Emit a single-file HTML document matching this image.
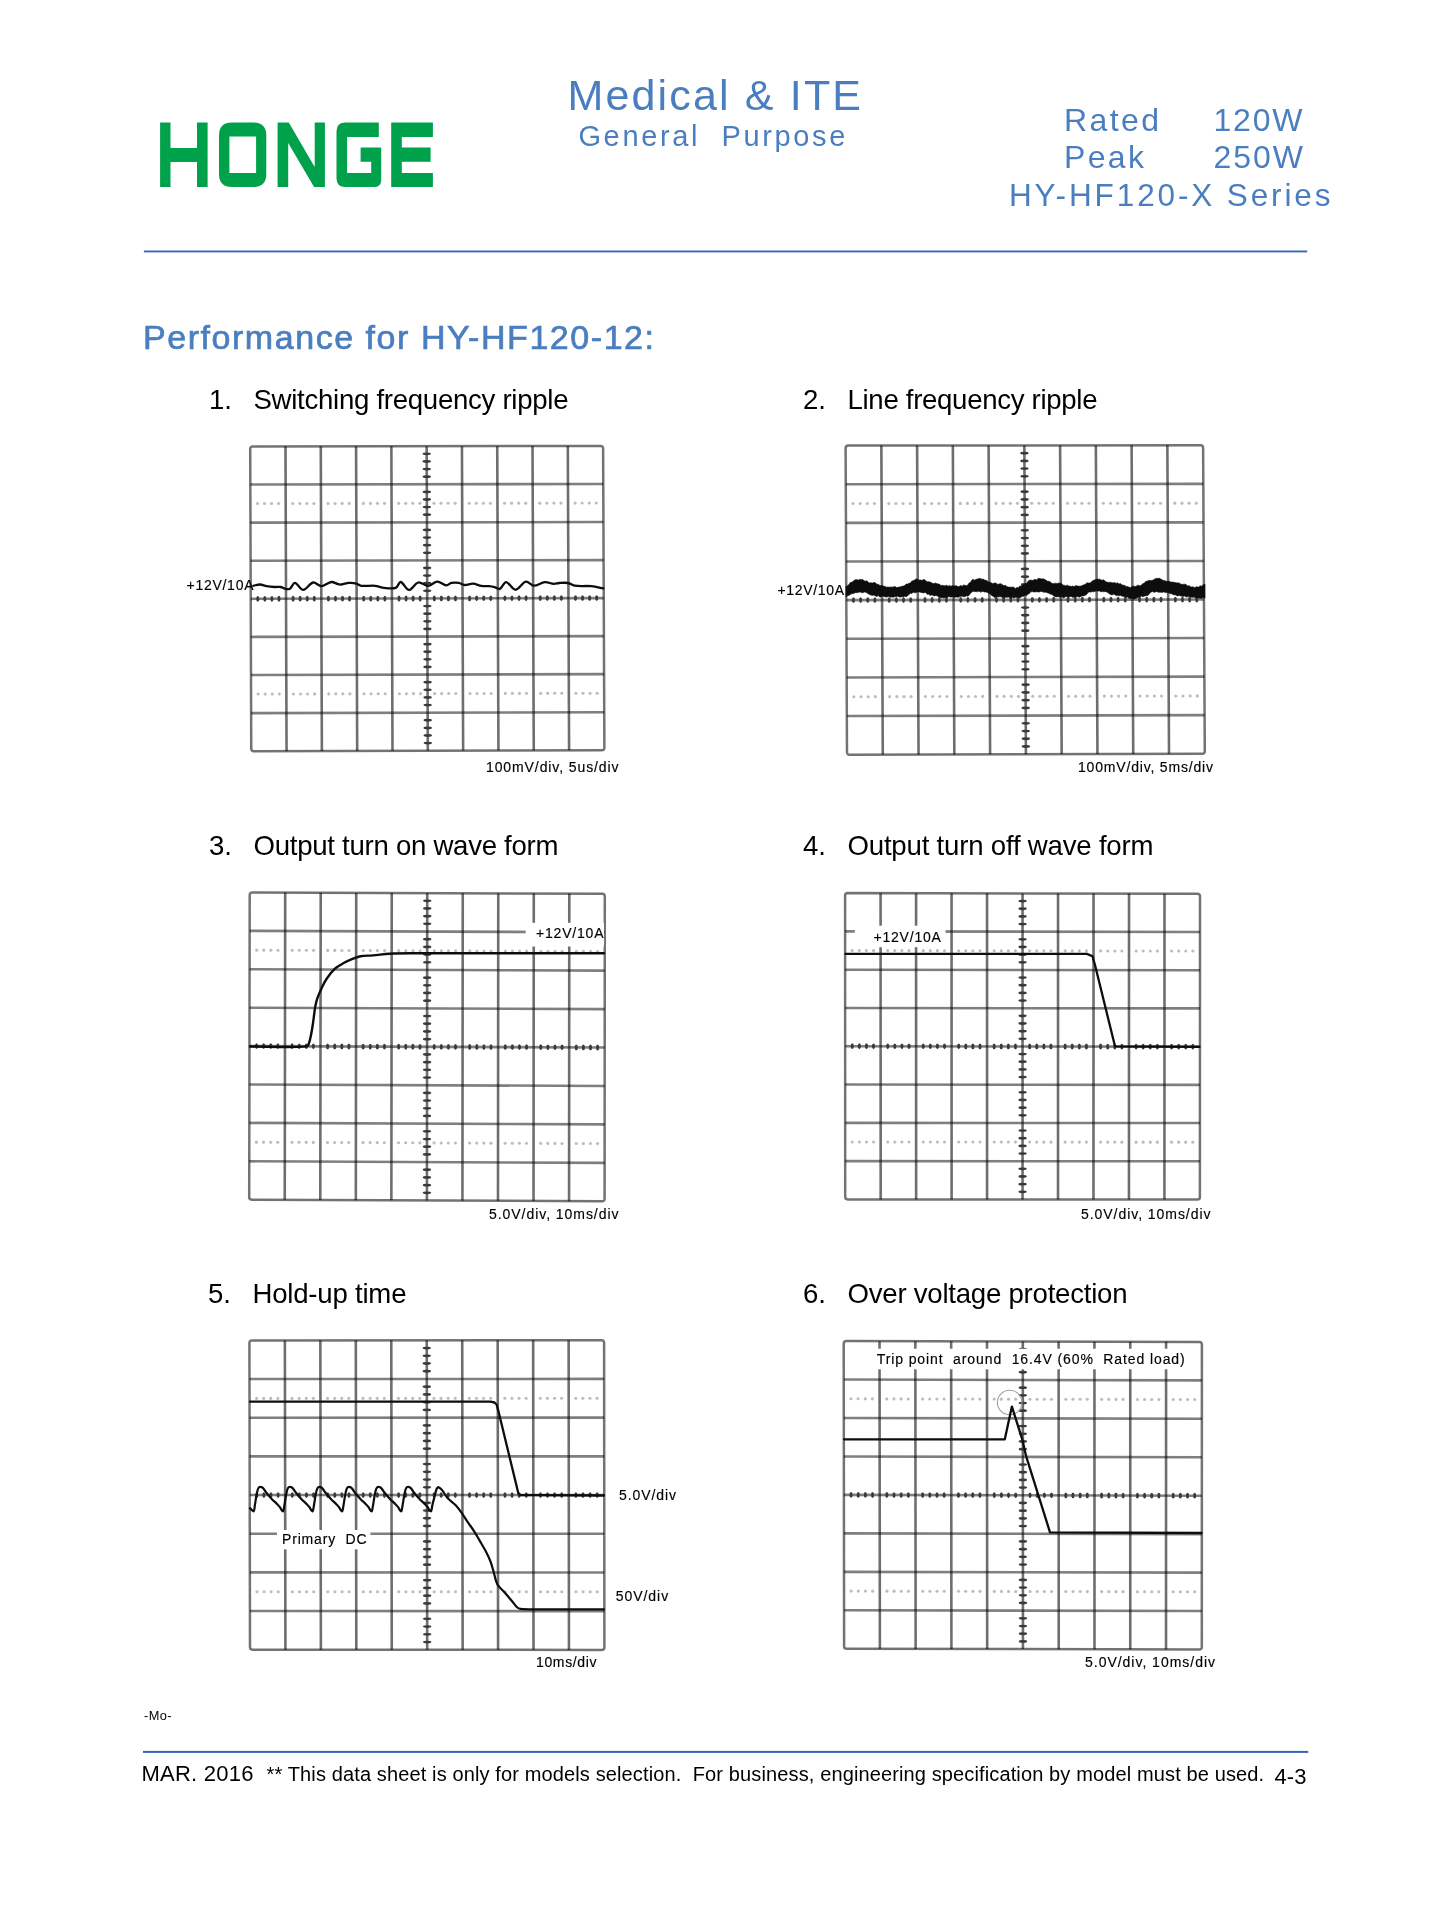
<!DOCTYPE html>
<html><head><meta charset="utf-8"><title>HONGE HY-HF120-X Performance</title>
<style>
html,body{margin:0;padding:0;background:#fff;}
body{width:1445px;height:1920px;overflow:hidden;}
svg{display:block;font-family:"Liberation Sans", sans-serif;will-change:transform;}
text{white-space:pre;}
</style></head>
<body>
<svg width="1445" height="1920" viewBox="0 0 1445 1920">
<rect width="1445" height="1920" fill="#fff"/>
<path d="M160.1,122.5H170.5V147.9H197.0V122.5H207.6V187.1H197.0V161.9H170.5V187.1H160.1ZM232,122.5H253.3Q266.3,122.5 266.3,135.5V174.1Q266.3,187.1 253.3,187.1H232Q219,187.1 219,174.1V135.5Q219,122.5 232,122.5ZM229.4,136.5V173H256.1V136.5ZM277.6,122.4H288.8L314.7,167.1V122.4H324.9V187.1H314.1L288.2,142.9V187.1H277.6ZM345.3,122.4H378.8V137.1H347.1V172.9H371.2V161.8H360.6V147.6H381.2V180Q381.2,187.1 374,187.1H345.3Q336.5,187.1 336.5,178.3V131.2Q336.5,122.4 345.3,122.4ZM391.2,122.4H432.9V137.1H401.8V147.6H430.6V161.8H401.8V172.9H432.9V187.1H391.2Z" fill="#00a14b" fill-rule="evenodd"/>
<text x="567.5" y="110.3" font-size="43" fill="#4a7ebf" textLength="293.5" lengthAdjust="spacing">Medical &amp; ITE</text>
<text x="578.4" y="146.4" font-size="29" fill="#4a7ebf" textLength="267" lengthAdjust="spacing">General  Purpose</text>
<text x="1064" y="130.8" font-size="32" fill="#4a7ebf" textLength="95" lengthAdjust="spacing">Rated</text>
<text x="1213.5" y="130.8" font-size="32" fill="#4a7ebf" textLength="89" lengthAdjust="spacing">120W</text>
<text x="1064" y="168.4" font-size="32" fill="#4a7ebf" textLength="80" lengthAdjust="spacing">Peak</text>
<text x="1213.5" y="168.4" font-size="32" fill="#4a7ebf" textLength="89.5" lengthAdjust="spacing">250W</text>
<text x="1009" y="206.1" font-size="31.5" fill="#4a7ebf" textLength="321.5" lengthAdjust="spacing">HY-HF120-X Series</text>
<rect x="143.9" y="250.5" width="1163.3" height="1.9" fill="#3866b3"/>
<g stroke="#4a7ebf" stroke-width="0.7">
<text x="143" y="348.8" font-size="34" fill="#4a7ebf" textLength="511" lengthAdjust="spacing">Performance for HY-HF120-12:</text>
</g>
<text x="209" y="408.7" font-size="27.6" fill="#000">1.</text>
<text x="253.5" y="408.7" font-size="27.6" fill="#000" textLength="315" lengthAdjust="spacing">Switching frequency ripple</text>
<text x="803" y="408.7" font-size="27.6" fill="#000">2.</text>
<text x="847.5" y="408.7" font-size="27.6" fill="#000" textLength="250" lengthAdjust="spacing">Line frequency ripple</text>
<text x="209" y="854.8" font-size="27.6" fill="#000">3.</text>
<text x="253.5" y="854.8" font-size="27.6" fill="#000" textLength="305" lengthAdjust="spacing">Output turn on wave form</text>
<text x="803" y="854.8" font-size="27.6" fill="#000">4.</text>
<text x="847.5" y="854.8" font-size="27.6" fill="#000" textLength="306" lengthAdjust="spacing">Output turn off wave form</text>
<text x="208" y="1302.5" font-size="27.6" fill="#000">5.</text>
<text x="252.5" y="1302.5" font-size="27.6" fill="#000" textLength="154" lengthAdjust="spacing">Hold-up time</text>
<text x="803" y="1303" font-size="27.6" fill="#000">6.</text>
<text x="847.5" y="1303" font-size="27.6" fill="#000" textLength="280" lengthAdjust="spacing">Over voltage protection</text>
<path d="M285.49,446.36L286.56,751.14M320.78,446.32L321.88,751.04M356.07,446.28L357.19,750.93M391.36,446.24L392.51,750.83M426.65,446.20L427.82,750.73M461.94,446.16L463.14,750.62M497.23,446.12L498.45,750.51M532.52,446.08L533.77,750.41M567.81,446.04L569.09,750.31" stroke="#000" stroke-opacity="0.57" stroke-width="2.6" fill="none"/>
<path d="M250.33,484.51L603.26,484.02M250.46,522.61L603.43,522.05M250.59,560.72L603.59,560.08M250.72,598.83L603.75,598.10M250.86,636.93L603.91,636.12M250.99,675.04L604.07,674.15M251.12,713.14L604.24,712.18" stroke="#000" stroke-opacity="0.5" stroke-width="2.6" fill="none"/>
<path d="M252.80,446.40L600.50,446.00Q603.10,446.00 603.11,448.59L604.39,747.61Q604.40,750.20 601.80,750.21L253.85,751.24Q251.25,751.25 251.24,748.65L250.21,449.00Q250.20,446.40 252.80,446.40Z" stroke="#000" stroke-opacity="0.55" stroke-width="2.5" fill="none"/>
<g fill="#3a3a3a"><ellipse cx="426.68" cy="453.81" rx="4.2" ry="1.4"/><ellipse cx="426.71" cy="461.43" rx="4.2" ry="1.4"/><ellipse cx="426.74" cy="469.04" rx="4.2" ry="1.4"/><ellipse cx="426.77" cy="476.65" rx="4.2" ry="1.4"/><ellipse cx="426.83" cy="491.88" rx="4.2" ry="1.4"/><ellipse cx="426.86" cy="499.49" rx="4.2" ry="1.4"/><ellipse cx="426.88" cy="507.11" rx="4.2" ry="1.4"/><ellipse cx="426.91" cy="514.72" rx="4.2" ry="1.4"/><ellipse cx="426.97" cy="529.94" rx="4.2" ry="1.4"/><ellipse cx="427.00" cy="537.56" rx="4.2" ry="1.4"/><ellipse cx="427.03" cy="545.17" rx="4.2" ry="1.4"/><ellipse cx="427.06" cy="552.78" rx="4.2" ry="1.4"/><ellipse cx="427.12" cy="568.01" rx="4.2" ry="1.4"/><ellipse cx="427.15" cy="575.62" rx="4.2" ry="1.4"/><ellipse cx="427.18" cy="583.24" rx="4.2" ry="1.4"/><ellipse cx="427.21" cy="590.85" rx="4.2" ry="1.4"/><ellipse cx="427.27" cy="606.08" rx="4.2" ry="1.4"/><ellipse cx="427.30" cy="613.69" rx="4.2" ry="1.4"/><ellipse cx="427.33" cy="621.30" rx="4.2" ry="1.4"/><ellipse cx="427.36" cy="628.91" rx="4.2" ry="1.4"/><ellipse cx="427.41" cy="644.14" rx="4.2" ry="1.4"/><ellipse cx="427.44" cy="651.75" rx="4.2" ry="1.4"/><ellipse cx="427.47" cy="659.37" rx="4.2" ry="1.4"/><ellipse cx="427.50" cy="666.98" rx="4.2" ry="1.4"/><ellipse cx="427.56" cy="682.21" rx="4.2" ry="1.4"/><ellipse cx="427.59" cy="689.82" rx="4.2" ry="1.4"/><ellipse cx="427.62" cy="697.43" rx="4.2" ry="1.4"/><ellipse cx="427.65" cy="705.05" rx="4.2" ry="1.4"/><ellipse cx="427.71" cy="720.27" rx="4.2" ry="1.4"/><ellipse cx="427.74" cy="727.89" rx="4.2" ry="1.4"/><ellipse cx="427.77" cy="735.50" rx="4.2" ry="1.4"/><ellipse cx="427.80" cy="743.11" rx="4.2" ry="1.4"/><ellipse cx="257.79" cy="598.81" rx="1.55" ry="2.9"/><ellipse cx="264.85" cy="598.80" rx="1.55" ry="2.9"/><ellipse cx="271.91" cy="598.78" rx="1.55" ry="2.9"/><ellipse cx="278.97" cy="598.77" rx="1.55" ry="2.9"/><ellipse cx="293.09" cy="598.74" rx="1.55" ry="2.9"/><ellipse cx="300.15" cy="598.72" rx="1.55" ry="2.9"/><ellipse cx="307.21" cy="598.71" rx="1.55" ry="2.9"/><ellipse cx="314.27" cy="598.69" rx="1.55" ry="2.9"/><ellipse cx="328.39" cy="598.67" rx="1.55" ry="2.9"/><ellipse cx="335.45" cy="598.65" rx="1.55" ry="2.9"/><ellipse cx="342.51" cy="598.64" rx="1.55" ry="2.9"/><ellipse cx="349.57" cy="598.62" rx="1.55" ry="2.9"/><ellipse cx="363.69" cy="598.59" rx="1.55" ry="2.9"/><ellipse cx="370.75" cy="598.58" rx="1.55" ry="2.9"/><ellipse cx="377.81" cy="598.56" rx="1.55" ry="2.9"/><ellipse cx="384.87" cy="598.55" rx="1.55" ry="2.9"/><ellipse cx="399.00" cy="598.52" rx="1.55" ry="2.9"/><ellipse cx="406.06" cy="598.51" rx="1.55" ry="2.9"/><ellipse cx="413.12" cy="598.49" rx="1.55" ry="2.9"/><ellipse cx="420.18" cy="598.48" rx="1.55" ry="2.9"/><ellipse cx="434.30" cy="598.45" rx="1.55" ry="2.9"/><ellipse cx="441.36" cy="598.43" rx="1.55" ry="2.9"/><ellipse cx="448.42" cy="598.42" rx="1.55" ry="2.9"/><ellipse cx="455.48" cy="598.40" rx="1.55" ry="2.9"/><ellipse cx="469.60" cy="598.38" rx="1.55" ry="2.9"/><ellipse cx="476.66" cy="598.36" rx="1.55" ry="2.9"/><ellipse cx="483.72" cy="598.35" rx="1.55" ry="2.9"/><ellipse cx="490.78" cy="598.33" rx="1.55" ry="2.9"/><ellipse cx="504.90" cy="598.30" rx="1.55" ry="2.9"/><ellipse cx="511.96" cy="598.29" rx="1.55" ry="2.9"/><ellipse cx="519.02" cy="598.27" rx="1.55" ry="2.9"/><ellipse cx="526.08" cy="598.26" rx="1.55" ry="2.9"/><ellipse cx="540.21" cy="598.23" rx="1.55" ry="2.9"/><ellipse cx="547.27" cy="598.22" rx="1.55" ry="2.9"/><ellipse cx="554.33" cy="598.20" rx="1.55" ry="2.9"/><ellipse cx="561.39" cy="598.19" rx="1.55" ry="2.9"/><ellipse cx="575.51" cy="598.16" rx="1.55" ry="2.9"/><ellipse cx="582.57" cy="598.14" rx="1.55" ry="2.9"/><ellipse cx="589.63" cy="598.13" rx="1.55" ry="2.9"/><ellipse cx="596.69" cy="598.11" rx="1.55" ry="2.9"/></g>
<g fill="#bcbcbc"><circle cx="257.46" cy="503.55" r="1.55"/><circle cx="264.51" cy="503.54" r="1.55"/><circle cx="271.57" cy="503.53" r="1.55"/><circle cx="278.63" cy="503.52" r="1.55"/><circle cx="292.75" cy="503.50" r="1.55"/><circle cx="299.81" cy="503.49" r="1.55"/><circle cx="306.87" cy="503.48" r="1.55"/><circle cx="313.93" cy="503.47" r="1.55"/><circle cx="328.05" cy="503.44" r="1.55"/><circle cx="335.10" cy="503.43" r="1.55"/><circle cx="342.16" cy="503.42" r="1.55"/><circle cx="349.22" cy="503.41" r="1.55"/><circle cx="363.34" cy="503.39" r="1.55"/><circle cx="370.40" cy="503.38" r="1.55"/><circle cx="377.46" cy="503.37" r="1.55"/><circle cx="384.52" cy="503.36" r="1.55"/><circle cx="398.63" cy="503.34" r="1.55"/><circle cx="405.69" cy="503.33" r="1.55"/><circle cx="412.75" cy="503.32" r="1.55"/><circle cx="419.81" cy="503.31" r="1.55"/><circle cx="433.93" cy="503.29" r="1.55"/><circle cx="440.99" cy="503.28" r="1.55"/><circle cx="448.05" cy="503.27" r="1.55"/><circle cx="455.11" cy="503.26" r="1.55"/><circle cx="469.22" cy="503.24" r="1.55"/><circle cx="476.28" cy="503.23" r="1.55"/><circle cx="483.34" cy="503.21" r="1.55"/><circle cx="490.40" cy="503.20" r="1.55"/><circle cx="504.52" cy="503.18" r="1.55"/><circle cx="511.58" cy="503.17" r="1.55"/><circle cx="518.64" cy="503.16" r="1.55"/><circle cx="525.70" cy="503.15" r="1.55"/><circle cx="539.81" cy="503.13" r="1.55"/><circle cx="546.87" cy="503.12" r="1.55"/><circle cx="553.93" cy="503.11" r="1.55"/><circle cx="560.99" cy="503.10" r="1.55"/><circle cx="575.11" cy="503.08" r="1.55"/><circle cx="582.17" cy="503.07" r="1.55"/><circle cx="589.23" cy="503.06" r="1.55"/><circle cx="596.28" cy="503.05" r="1.55"/><circle cx="258.12" cy="694.07" r="1.55"/><circle cx="265.18" cy="694.05" r="1.55"/><circle cx="272.24" cy="694.03" r="1.55"/><circle cx="279.30" cy="694.02" r="1.55"/><circle cx="293.43" cy="693.98" r="1.55"/><circle cx="300.49" cy="693.96" r="1.55"/><circle cx="307.55" cy="693.94" r="1.55"/><circle cx="314.61" cy="693.92" r="1.55"/><circle cx="328.74" cy="693.89" r="1.55"/><circle cx="335.80" cy="693.87" r="1.55"/><circle cx="342.86" cy="693.85" r="1.55"/><circle cx="349.92" cy="693.83" r="1.55"/><circle cx="364.05" cy="693.79" r="1.55"/><circle cx="371.11" cy="693.78" r="1.55"/><circle cx="378.17" cy="693.76" r="1.55"/><circle cx="385.23" cy="693.74" r="1.55"/><circle cx="399.36" cy="693.70" r="1.55"/><circle cx="406.42" cy="693.68" r="1.55"/><circle cx="413.48" cy="693.66" r="1.55"/><circle cx="420.54" cy="693.65" r="1.55"/><circle cx="434.67" cy="693.61" r="1.55"/><circle cx="441.73" cy="693.59" r="1.55"/><circle cx="448.79" cy="693.57" r="1.55"/><circle cx="455.85" cy="693.55" r="1.55"/><circle cx="469.98" cy="693.52" r="1.55"/><circle cx="477.04" cy="693.50" r="1.55"/><circle cx="484.10" cy="693.48" r="1.55"/><circle cx="491.16" cy="693.46" r="1.55"/><circle cx="505.29" cy="693.42" r="1.55"/><circle cx="512.35" cy="693.40" r="1.55"/><circle cx="519.41" cy="693.39" r="1.55"/><circle cx="526.47" cy="693.37" r="1.55"/><circle cx="540.60" cy="693.33" r="1.55"/><circle cx="547.66" cy="693.31" r="1.55"/><circle cx="554.72" cy="693.29" r="1.55"/><circle cx="561.78" cy="693.27" r="1.55"/><circle cx="575.91" cy="693.24" r="1.55"/><circle cx="582.97" cy="693.22" r="1.55"/><circle cx="590.03" cy="693.20" r="1.55"/><circle cx="597.09" cy="693.18" r="1.55"/></g>
<path d="M253.30,585.80 C255.53,585.37 257.78,584.43 260.00,584.50 C262.22,584.57 264.37,585.83 266.60,586.20 C269.33,586.66 272.13,586.84 274.90,587.00 C276.83,587.11 278.83,586.68 280.70,587.00 C282.16,587.25 283.44,588.43 284.90,588.70 C286.51,589.00 288.58,589.46 289.90,588.70 C291.92,587.53 293.07,582.73 294.90,582.90 C297.50,583.13 300.36,589.96 303.20,589.90 C306.43,589.83 309.60,583.21 313.10,582.50 C315.67,581.98 318.62,586.28 321.40,586.20 C324.72,586.11 328.02,582.43 331.40,582.00 C333.56,581.73 335.77,583.54 338.00,584.10 C339.10,584.38 340.28,584.62 341.40,584.50 C343.88,584.22 346.31,583.11 348.80,582.90 C351.01,582.71 353.35,582.80 355.50,583.30 C357.52,583.77 359.25,585.54 361.30,585.80 C365.75,586.37 370.48,585.38 375.00,585.80 C378.08,586.08 381.02,587.59 384.10,587.90 C387.92,588.29 392.38,589.08 395.70,587.90 C397.91,587.11 398.91,581.73 400.70,582.00 C403.35,582.40 406.13,589.82 409.00,589.90 C411.96,589.98 414.82,583.23 418.20,582.50 C421.19,581.86 424.87,585.95 428.10,585.80 C431.23,585.65 434.21,581.67 437.30,581.60 C440.31,581.53 443.40,585.12 446.40,585.40 C448.10,585.56 449.62,583.26 451.40,582.90 C453.79,582.42 456.47,582.52 458.90,582.90 C460.90,583.22 462.71,584.89 464.70,585.00 C467.41,585.15 470.26,583.57 473.00,583.70 C475.79,583.83 478.49,585.36 481.30,585.80 C483.83,586.19 486.45,585.95 489.00,586.20 C490.81,586.38 492.64,586.66 494.40,587.10 C496.24,587.56 498.32,589.53 499.80,588.90 C502.22,587.87 503.84,581.97 506.10,582.10 C509.07,582.27 512.33,589.86 515.50,589.80 C518.93,589.73 522.24,582.51 525.90,581.70 C528.41,581.14 531.21,585.64 534.00,585.70 C537.51,585.77 541.15,582.43 544.80,582.10 C547.75,581.83 550.79,583.71 553.80,583.90 C555.59,584.01 557.38,583.11 559.20,583.00 C562.18,582.81 565.30,582.49 568.20,583.00 C570.40,583.39 572.27,585.39 574.50,585.70 C580.07,586.46 585.94,585.67 591.60,586.20 C595.54,586.57 599.40,587.67 603.30,588.40" stroke="#0d0d0d" stroke-width="2.3" fill="none" stroke-linejoin="round" stroke-linecap="round"/>
<text x="186.5" y="589.8" font-size="14" fill="#000" textLength="67" lengthAdjust="spacing" stroke="#000" stroke-width="0.15">+12V/10A</text>
<text x="486" y="772" font-size="14" fill="#000" textLength="132.5" lengthAdjust="spacing" stroke="#000" stroke-width="0.15">100mV/div, 5us/div</text>
<path d="M881.35,445.57L882.78,754.60M917.10,445.54L918.56,754.50M952.85,445.51L954.34,754.40M988.60,445.48L990.12,754.30M1024.35,445.45L1025.90,754.20M1060.10,445.42L1061.68,754.10M1095.85,445.39L1097.46,754.00M1131.60,445.36L1133.24,753.90M1167.35,445.33L1169.02,753.80" stroke="#000" stroke-opacity="0.57" stroke-width="2.6" fill="none"/>
<path d="M845.77,484.24L1203.31,483.85M845.95,522.88L1203.52,522.40M846.12,561.51L1203.74,560.95M846.30,600.15L1203.95,599.50M846.48,638.79L1204.16,638.05M846.65,677.43L1204.38,676.60M846.83,716.06L1204.59,715.15" stroke="#000" stroke-opacity="0.5" stroke-width="2.6" fill="none"/>
<path d="M848.20,445.60L1200.50,445.30Q1203.10,445.30 1203.11,447.89L1204.79,751.11Q1204.80,753.70 1202.20,753.71L849.60,754.69Q847.00,754.70 846.99,752.10L845.61,448.20Q845.60,445.60 848.20,445.60Z" stroke="#000" stroke-opacity="0.55" stroke-width="2.5" fill="none"/>
<g fill="#3a3a3a"><ellipse cx="1024.39" cy="453.17" rx="4.2" ry="1.4"/><ellipse cx="1024.43" cy="460.89" rx="4.2" ry="1.4"/><ellipse cx="1024.47" cy="468.61" rx="4.2" ry="1.4"/><ellipse cx="1024.50" cy="476.33" rx="4.2" ry="1.4"/><ellipse cx="1024.58" cy="491.76" rx="4.2" ry="1.4"/><ellipse cx="1024.62" cy="499.48" rx="4.2" ry="1.4"/><ellipse cx="1024.66" cy="507.20" rx="4.2" ry="1.4"/><ellipse cx="1024.70" cy="514.92" rx="4.2" ry="1.4"/><ellipse cx="1024.78" cy="530.36" rx="4.2" ry="1.4"/><ellipse cx="1024.81" cy="538.08" rx="4.2" ry="1.4"/><ellipse cx="1024.85" cy="545.79" rx="4.2" ry="1.4"/><ellipse cx="1024.89" cy="553.51" rx="4.2" ry="1.4"/><ellipse cx="1024.97" cy="568.95" rx="4.2" ry="1.4"/><ellipse cx="1025.01" cy="576.67" rx="4.2" ry="1.4"/><ellipse cx="1025.05" cy="584.39" rx="4.2" ry="1.4"/><ellipse cx="1025.09" cy="592.11" rx="4.2" ry="1.4"/><ellipse cx="1025.16" cy="607.54" rx="4.2" ry="1.4"/><ellipse cx="1025.20" cy="615.26" rx="4.2" ry="1.4"/><ellipse cx="1025.24" cy="622.98" rx="4.2" ry="1.4"/><ellipse cx="1025.28" cy="630.70" rx="4.2" ry="1.4"/><ellipse cx="1025.36" cy="646.14" rx="4.2" ry="1.4"/><ellipse cx="1025.40" cy="653.86" rx="4.2" ry="1.4"/><ellipse cx="1025.43" cy="661.58" rx="4.2" ry="1.4"/><ellipse cx="1025.47" cy="669.29" rx="4.2" ry="1.4"/><ellipse cx="1025.55" cy="684.73" rx="4.2" ry="1.4"/><ellipse cx="1025.59" cy="692.45" rx="4.2" ry="1.4"/><ellipse cx="1025.63" cy="700.17" rx="4.2" ry="1.4"/><ellipse cx="1025.67" cy="707.89" rx="4.2" ry="1.4"/><ellipse cx="1025.75" cy="723.33" rx="4.2" ry="1.4"/><ellipse cx="1025.78" cy="731.04" rx="4.2" ry="1.4"/><ellipse cx="1025.82" cy="738.76" rx="4.2" ry="1.4"/><ellipse cx="1025.86" cy="746.48" rx="4.2" ry="1.4"/><ellipse cx="853.45" cy="600.14" rx="1.55" ry="2.9"/><ellipse cx="860.61" cy="600.12" rx="1.55" ry="2.9"/><ellipse cx="867.76" cy="600.11" rx="1.55" ry="2.9"/><ellipse cx="874.91" cy="600.10" rx="1.55" ry="2.9"/><ellipse cx="889.22" cy="600.07" rx="1.55" ry="2.9"/><ellipse cx="896.37" cy="600.06" rx="1.55" ry="2.9"/><ellipse cx="903.52" cy="600.05" rx="1.55" ry="2.9"/><ellipse cx="910.68" cy="600.03" rx="1.55" ry="2.9"/><ellipse cx="924.98" cy="600.01" rx="1.55" ry="2.9"/><ellipse cx="932.14" cy="599.99" rx="1.55" ry="2.9"/><ellipse cx="939.29" cy="599.98" rx="1.55" ry="2.9"/><ellipse cx="946.44" cy="599.97" rx="1.55" ry="2.9"/><ellipse cx="960.75" cy="599.94" rx="1.55" ry="2.9"/><ellipse cx="967.90" cy="599.93" rx="1.55" ry="2.9"/><ellipse cx="975.05" cy="599.92" rx="1.55" ry="2.9"/><ellipse cx="982.21" cy="599.90" rx="1.55" ry="2.9"/><ellipse cx="996.51" cy="599.88" rx="1.55" ry="2.9"/><ellipse cx="1003.67" cy="599.86" rx="1.55" ry="2.9"/><ellipse cx="1010.82" cy="599.85" rx="1.55" ry="2.9"/><ellipse cx="1017.97" cy="599.84" rx="1.55" ry="2.9"/><ellipse cx="1032.28" cy="599.81" rx="1.55" ry="2.9"/><ellipse cx="1039.43" cy="599.80" rx="1.55" ry="2.9"/><ellipse cx="1046.58" cy="599.79" rx="1.55" ry="2.9"/><ellipse cx="1053.74" cy="599.77" rx="1.55" ry="2.9"/><ellipse cx="1068.04" cy="599.75" rx="1.55" ry="2.9"/><ellipse cx="1075.20" cy="599.73" rx="1.55" ry="2.9"/><ellipse cx="1082.35" cy="599.72" rx="1.55" ry="2.9"/><ellipse cx="1089.50" cy="599.71" rx="1.55" ry="2.9"/><ellipse cx="1103.81" cy="599.68" rx="1.55" ry="2.9"/><ellipse cx="1110.96" cy="599.67" rx="1.55" ry="2.9"/><ellipse cx="1118.11" cy="599.66" rx="1.55" ry="2.9"/><ellipse cx="1125.27" cy="599.64" rx="1.55" ry="2.9"/><ellipse cx="1139.57" cy="599.62" rx="1.55" ry="2.9"/><ellipse cx="1146.73" cy="599.60" rx="1.55" ry="2.9"/><ellipse cx="1153.88" cy="599.59" rx="1.55" ry="2.9"/><ellipse cx="1161.03" cy="599.58" rx="1.55" ry="2.9"/><ellipse cx="1175.34" cy="599.55" rx="1.55" ry="2.9"/><ellipse cx="1182.49" cy="599.54" rx="1.55" ry="2.9"/><ellipse cx="1189.64" cy="599.53" rx="1.55" ry="2.9"/><ellipse cx="1196.80" cy="599.51" rx="1.55" ry="2.9"/></g>
<g fill="#bcbcbc"><circle cx="853.01" cy="503.55" r="1.55"/><circle cx="860.16" cy="503.54" r="1.55"/><circle cx="867.32" cy="503.53" r="1.55"/><circle cx="874.47" cy="503.52" r="1.55"/><circle cx="888.77" cy="503.50" r="1.55"/><circle cx="895.92" cy="503.50" r="1.55"/><circle cx="903.07" cy="503.49" r="1.55"/><circle cx="910.22" cy="503.48" r="1.55"/><circle cx="924.52" cy="503.46" r="1.55"/><circle cx="931.68" cy="503.45" r="1.55"/><circle cx="938.83" cy="503.44" r="1.55"/><circle cx="945.98" cy="503.44" r="1.55"/><circle cx="960.28" cy="503.42" r="1.55"/><circle cx="967.43" cy="503.41" r="1.55"/><circle cx="974.58" cy="503.40" r="1.55"/><circle cx="981.73" cy="503.39" r="1.55"/><circle cx="996.04" cy="503.38" r="1.55"/><circle cx="1003.19" cy="503.37" r="1.55"/><circle cx="1010.34" cy="503.36" r="1.55"/><circle cx="1017.49" cy="503.35" r="1.55"/><circle cx="1031.79" cy="503.33" r="1.55"/><circle cx="1038.94" cy="503.32" r="1.55"/><circle cx="1046.09" cy="503.31" r="1.55"/><circle cx="1053.25" cy="503.31" r="1.55"/><circle cx="1067.55" cy="503.29" r="1.55"/><circle cx="1074.70" cy="503.28" r="1.55"/><circle cx="1081.85" cy="503.27" r="1.55"/><circle cx="1089.00" cy="503.26" r="1.55"/><circle cx="1103.30" cy="503.25" r="1.55"/><circle cx="1110.45" cy="503.24" r="1.55"/><circle cx="1117.61" cy="503.23" r="1.55"/><circle cx="1124.76" cy="503.22" r="1.55"/><circle cx="1139.06" cy="503.20" r="1.55"/><circle cx="1146.21" cy="503.19" r="1.55"/><circle cx="1153.36" cy="503.19" r="1.55"/><circle cx="1160.51" cy="503.18" r="1.55"/><circle cx="1174.81" cy="503.16" r="1.55"/><circle cx="1181.97" cy="503.15" r="1.55"/><circle cx="1189.12" cy="503.14" r="1.55"/><circle cx="1196.27" cy="503.13" r="1.55"/><circle cx="853.89" cy="696.73" r="1.55"/><circle cx="861.05" cy="696.71" r="1.55"/><circle cx="868.20" cy="696.69" r="1.55"/><circle cx="875.36" cy="696.67" r="1.55"/><circle cx="889.67" cy="696.64" r="1.55"/><circle cx="896.82" cy="696.62" r="1.55"/><circle cx="903.98" cy="696.60" r="1.55"/><circle cx="911.13" cy="696.59" r="1.55"/><circle cx="925.44" cy="696.55" r="1.55"/><circle cx="932.60" cy="696.54" r="1.55"/><circle cx="939.75" cy="696.52" r="1.55"/><circle cx="946.91" cy="696.50" r="1.55"/><circle cx="961.22" cy="696.47" r="1.55"/><circle cx="968.37" cy="696.45" r="1.55"/><circle cx="975.53" cy="696.43" r="1.55"/><circle cx="982.68" cy="696.41" r="1.55"/><circle cx="996.99" cy="696.38" r="1.55"/><circle cx="1004.14" cy="696.36" r="1.55"/><circle cx="1011.30" cy="696.34" r="1.55"/><circle cx="1018.45" cy="696.33" r="1.55"/><circle cx="1032.76" cy="696.29" r="1.55"/><circle cx="1039.92" cy="696.27" r="1.55"/><circle cx="1047.07" cy="696.26" r="1.55"/><circle cx="1054.23" cy="696.24" r="1.55"/><circle cx="1068.54" cy="696.21" r="1.55"/><circle cx="1075.69" cy="696.19" r="1.55"/><circle cx="1082.85" cy="696.17" r="1.55"/><circle cx="1090.00" cy="696.15" r="1.55"/><circle cx="1104.31" cy="696.12" r="1.55"/><circle cx="1111.47" cy="696.10" r="1.55"/><circle cx="1118.62" cy="696.08" r="1.55"/><circle cx="1125.78" cy="696.07" r="1.55"/><circle cx="1140.09" cy="696.03" r="1.55"/><circle cx="1147.24" cy="696.01" r="1.55"/><circle cx="1154.40" cy="696.00" r="1.55"/><circle cx="1161.55" cy="695.98" r="1.55"/><circle cx="1175.86" cy="695.94" r="1.55"/><circle cx="1183.02" cy="695.93" r="1.55"/><circle cx="1190.17" cy="695.91" r="1.55"/><circle cx="1197.33" cy="695.89" r="1.55"/></g>
<path d="M846.00,586.53 L847.40,585.72 L848.80,584.84 L850.20,582.58 L851.60,582.26 L853.00,581.59 L854.40,579.99 L855.80,579.67 L857.20,579.70 L858.60,580.10 L860.00,579.29 L861.40,579.64 L862.80,579.53 L864.20,580.87 L865.60,581.14 L867.00,580.71 L868.40,582.51 L869.80,582.92 L871.20,582.81 L872.60,582.94 L874.00,582.41 L875.40,582.69 L876.80,584.16 L878.20,584.33 L879.60,585.23 L881.00,585.70 L882.40,585.47 L883.80,586.22 L885.20,586.39 L886.60,587.18 L888.00,586.92 L889.40,587.19 L890.80,586.99 L892.20,587.18 L893.60,586.84 L895.00,586.52 L896.40,587.45 L897.80,587.37 L899.20,587.08 L900.60,586.84 L902.00,586.25 L903.40,586.09 L904.80,585.43 L906.20,583.94 L907.60,584.05 L909.00,583.26 L910.40,582.97 L911.80,581.07 L913.20,580.73 L914.60,580.00 L916.00,578.82 L917.40,579.19 L918.80,580.26 L920.20,579.75 L921.60,580.54 L923.00,579.76 L924.40,579.49 L925.80,580.80 L927.20,581.71 L928.60,581.71 L930.00,582.00 L931.40,582.57 L932.80,583.55 L934.20,583.54 L935.60,583.04 L937.00,583.69 L938.40,583.97 L939.80,584.37 L941.20,585.79 L942.60,585.17 L944.00,585.78 L945.40,585.65 L946.80,585.36 L948.20,586.20 L949.60,585.45 L951.00,586.26 L952.40,585.59 L953.80,586.07 L955.20,585.80 L956.60,585.83 L958.00,586.71 L959.40,586.34 L960.80,585.48 L962.20,586.14 L963.60,585.05 L965.00,585.20 L966.40,585.80 L967.80,585.06 L969.20,582.86 L970.60,582.34 L972.00,579.86 L973.40,579.55 L974.80,580.14 L976.20,579.29 L977.60,578.98 L979.00,578.47 L980.40,578.43 L981.80,579.25 L983.20,579.09 L984.60,580.04 L986.00,580.27 L987.40,580.99 L988.80,582.31 L990.20,582.23 L991.60,582.88 L993.00,583.69 L994.40,582.99 L995.80,583.02 L997.20,584.16 L998.60,584.22 L1000.00,583.69 L1001.40,583.95 L1002.80,585.12 L1004.20,585.83 L1005.60,585.24 L1007.00,586.75 L1008.40,587.10 L1009.80,587.12 L1011.20,587.23 L1012.60,587.08 L1014.00,587.21 L1015.40,588.63 L1016.80,587.57 L1018.20,587.68 L1019.60,586.19 L1021.00,586.08 L1022.40,585.10 L1023.80,584.48 L1025.20,583.73 L1026.60,583.42 L1028.00,581.25 L1029.40,580.34 L1030.80,580.09 L1032.20,580.38 L1033.60,579.94 L1035.00,579.29 L1036.40,579.97 L1037.80,578.78 L1039.20,578.37 L1040.60,578.68 L1042.00,579.06 L1043.40,578.86 L1044.80,579.51 L1046.20,580.35 L1047.60,581.26 L1049.00,581.24 L1050.40,582.11 L1051.80,583.26 L1053.20,583.63 L1054.60,583.23 L1056.00,583.38 L1057.40,583.42 L1058.80,583.06 L1060.20,583.23 L1061.60,583.55 L1063.00,585.17 L1064.40,585.25 L1065.80,585.97 L1067.20,584.97 L1068.60,586.09 L1070.00,586.07 L1071.40,586.51 L1072.80,585.93 L1074.20,586.81 L1075.60,585.39 L1077.00,585.92 L1078.40,586.08 L1079.80,586.26 L1081.20,585.88 L1082.60,585.36 L1084.00,584.82 L1085.40,584.27 L1086.80,582.86 L1088.20,582.93 L1089.60,583.09 L1091.00,582.44 L1092.40,580.83 L1093.80,580.34 L1095.20,579.70 L1096.60,579.11 L1098.00,579.29 L1099.40,579.17 L1100.80,579.76 L1102.20,580.17 L1103.60,579.85 L1105.00,581.07 L1106.40,582.01 L1107.80,582.25 L1109.20,582.40 L1110.60,582.20 L1112.00,582.87 L1113.40,582.71 L1114.80,582.61 L1116.20,583.39 L1117.60,582.67 L1119.00,584.02 L1120.40,583.49 L1121.80,584.80 L1123.20,585.16 L1124.60,585.32 L1126.00,586.44 L1127.40,586.55 L1128.80,587.02 L1130.20,587.64 L1131.60,586.75 L1133.00,586.22 L1134.40,586.27 L1135.80,586.39 L1137.20,585.40 L1138.60,585.24 L1140.00,585.96 L1141.40,584.91 L1142.80,583.65 L1144.20,583.25 L1145.60,581.51 L1147.00,581.30 L1148.40,580.38 L1149.80,580.52 L1151.20,580.59 L1152.60,580.17 L1154.00,579.55 L1155.40,578.45 L1156.80,578.62 L1158.20,578.35 L1159.60,578.31 L1161.00,579.14 L1162.40,580.00 L1163.80,580.46 L1165.20,580.74 L1166.60,581.55 L1168.00,581.07 L1169.40,581.34 L1170.80,582.08 L1172.20,582.10 L1173.60,582.17 L1175.00,582.49 L1176.40,582.87 L1177.80,582.88 L1179.20,582.89 L1180.60,583.96 L1182.00,584.55 L1183.40,584.23 L1184.80,584.14 L1186.20,584.54 L1187.60,586.17 L1189.00,585.44 L1190.40,586.77 L1191.80,586.93 L1193.20,586.86 L1194.60,587.75 L1196.00,586.80 L1197.40,586.96 L1198.80,587.00 L1200.20,585.71 L1201.60,586.16 L1203.00,584.95 L1204.40,584.30 L1205.00,583.97 L1205.00,598.23 L1204.40,598.06 L1203.00,597.23 L1201.60,598.55 L1200.20,598.19 L1198.80,598.02 L1197.40,597.83 L1196.00,598.21 L1194.60,597.22 L1193.20,597.27 L1191.80,597.17 L1190.40,597.14 L1189.00,596.54 L1187.60,596.85 L1186.20,597.10 L1184.80,595.98 L1183.40,596.43 L1182.00,596.37 L1180.60,595.92 L1179.20,595.42 L1177.80,595.96 L1176.40,595.48 L1175.00,594.63 L1173.60,594.97 L1172.20,593.90 L1170.80,593.77 L1169.40,593.20 L1168.00,592.64 L1166.60,592.61 L1165.20,592.55 L1163.80,591.85 L1162.40,592.39 L1161.00,592.29 L1159.60,592.18 L1158.20,592.35 L1156.80,591.38 L1155.40,592.09 L1154.00,592.30 L1152.60,591.61 L1151.20,592.04 L1149.80,593.21 L1148.40,595.01 L1147.00,595.72 L1145.60,595.68 L1144.20,596.16 L1142.80,596.76 L1141.40,596.06 L1140.00,597.32 L1138.60,597.36 L1137.20,597.86 L1135.80,598.49 L1134.40,599.13 L1133.00,598.70 L1131.60,598.18 L1130.20,598.87 L1128.80,598.35 L1127.40,597.02 L1126.00,597.44 L1124.60,596.78 L1123.20,596.49 L1121.80,596.03 L1120.40,595.50 L1119.00,595.84 L1117.60,595.23 L1116.20,595.83 L1114.80,594.51 L1113.40,594.28 L1112.00,595.04 L1110.60,594.62 L1109.20,593.86 L1107.80,592.41 L1106.40,591.89 L1105.00,591.43 L1103.60,591.76 L1102.20,591.62 L1100.80,591.67 L1099.40,590.95 L1098.00,591.05 L1096.60,591.00 L1095.20,591.16 L1093.80,591.86 L1092.40,591.60 L1091.00,592.02 L1089.60,592.07 L1088.20,592.22 L1086.80,594.30 L1085.40,595.19 L1084.00,595.79 L1082.60,595.90 L1081.20,596.17 L1079.80,597.26 L1078.40,596.86 L1077.00,596.48 L1075.60,597.41 L1074.20,596.89 L1072.80,597.47 L1071.40,596.44 L1070.00,596.66 L1068.60,597.32 L1067.20,596.64 L1065.80,596.49 L1064.40,597.54 L1063.00,597.70 L1061.60,596.61 L1060.20,597.59 L1058.80,596.74 L1057.40,596.65 L1056.00,597.11 L1054.60,596.42 L1053.20,595.63 L1051.80,594.15 L1050.40,594.26 L1049.00,593.21 L1047.60,592.98 L1046.20,592.15 L1044.80,592.19 L1043.40,592.18 L1042.00,591.59 L1040.60,591.52 L1039.20,592.04 L1037.80,591.88 L1036.40,591.83 L1035.00,591.91 L1033.60,592.04 L1032.20,591.58 L1030.80,591.86 L1029.40,593.45 L1028.00,594.27 L1026.60,595.54 L1025.20,594.93 L1023.80,596.15 L1022.40,596.39 L1021.00,596.95 L1019.60,597.94 L1018.20,597.51 L1016.80,597.46 L1015.40,597.20 L1014.00,598.22 L1012.60,597.25 L1011.20,598.30 L1009.80,597.79 L1008.40,597.12 L1007.00,597.21 L1005.60,597.35 L1004.20,597.86 L1002.80,597.66 L1001.40,597.06 L1000.00,596.57 L998.60,597.01 L997.20,596.69 L995.80,597.59 L994.40,597.48 L993.00,596.15 L991.60,595.45 L990.20,593.77 L988.80,593.61 L987.40,592.43 L986.00,591.90 L984.60,592.02 L983.20,591.46 L981.80,591.62 L980.40,592.26 L979.00,590.94 L977.60,591.75 L976.20,591.60 L974.80,591.65 L973.40,591.18 L972.00,592.01 L970.60,593.10 L969.20,595.19 L967.80,596.23 L966.40,595.69 L965.00,596.71 L963.60,596.74 L962.20,596.23 L960.80,596.29 L959.40,596.80 L958.00,597.33 L956.60,596.99 L955.20,597.19 L953.80,597.34 L952.40,596.77 L951.00,597.18 L949.60,596.85 L948.20,596.75 L946.80,598.04 L945.40,597.46 L944.00,598.12 L942.60,597.71 L941.20,597.74 L939.80,597.30 L938.40,596.68 L937.00,595.81 L935.60,595.46 L934.20,596.08 L932.80,595.24 L931.40,594.94 L930.00,595.60 L928.60,594.02 L927.20,594.36 L925.80,592.56 L924.40,592.67 L923.00,592.88 L921.60,592.54 L920.20,592.30 L918.80,591.71 L917.40,591.98 L916.00,592.62 L914.60,592.68 L913.20,592.24 L911.80,593.47 L910.40,593.36 L909.00,594.58 L907.60,595.71 L906.20,596.68 L904.80,596.20 L903.40,596.90 L902.00,596.80 L900.60,597.05 L899.20,596.91 L897.80,596.19 L896.40,596.81 L895.00,596.55 L893.60,597.22 L892.20,597.02 L890.80,597.13 L889.40,596.70 L888.00,596.43 L886.60,597.17 L885.20,596.78 L883.80,596.53 L882.40,596.08 L881.00,596.90 L879.60,597.05 L878.20,595.61 L876.80,596.43 L875.40,595.93 L874.00,595.09 L872.60,595.40 L871.20,595.13 L869.80,594.58 L868.40,594.11 L867.00,592.87 L865.60,592.26 L864.20,592.05 L862.80,592.83 L861.40,592.55 L860.00,591.97 L858.60,592.28 L857.20,592.76 L855.80,592.43 L854.40,593.15 L853.00,593.56 L851.60,593.86 L850.20,594.57 L848.80,595.45 L847.40,595.71 L846.00,597.08 Z" fill="#0d0d0d" stroke="#0d0d0d" stroke-width="0.6" stroke-linejoin="round"/>
<text x="777.5" y="594.9" font-size="14" fill="#000" textLength="66.5" lengthAdjust="spacing" stroke="#000" stroke-width="0.15">+12V/10A</text>
<text x="1078" y="772" font-size="14" fill="#000" textLength="135" lengthAdjust="spacing" stroke="#000" stroke-width="0.15">100mV/div, 5ms/div</text>
<path d="M285.21,892.62L284.74,1199.86M320.72,892.75L320.28,1200.02M356.23,892.88L355.82,1200.18M391.74,893.00L391.36,1200.34M427.25,893.12L426.90,1200.50M462.76,893.25L462.44,1200.66M498.27,893.38L497.98,1200.82M533.78,893.50L533.52,1200.98M569.29,893.62L569.06,1201.14" stroke="#000" stroke-opacity="0.57" stroke-width="2.6" fill="none"/>
<path d="M249.64,930.90L604.77,932.19M249.57,969.30L604.75,970.64M249.51,1007.70L604.73,1009.08M249.45,1046.10L604.70,1047.53M249.39,1084.50L604.67,1085.97M249.32,1122.90L604.65,1124.41M249.26,1161.30L604.62,1162.86" stroke="#000" stroke-opacity="0.5" stroke-width="2.6" fill="none"/>
<path d="M252.30,892.51L602.20,893.74Q604.80,893.75 604.80,896.35L604.60,1198.70Q604.60,1201.30 602.00,1201.29L251.80,1199.71Q249.20,1199.70 249.20,1197.10L249.70,895.10Q249.70,892.50 252.30,892.51Z" stroke="#000" stroke-opacity="0.55" stroke-width="2.5" fill="none"/>
<g fill="#3a3a3a"><ellipse cx="427.24" cy="900.81" rx="4.2" ry="1.4"/><ellipse cx="427.23" cy="908.49" rx="4.2" ry="1.4"/><ellipse cx="427.22" cy="916.18" rx="4.2" ry="1.4"/><ellipse cx="427.22" cy="923.86" rx="4.2" ry="1.4"/><ellipse cx="427.20" cy="939.23" rx="4.2" ry="1.4"/><ellipse cx="427.19" cy="946.92" rx="4.2" ry="1.4"/><ellipse cx="427.18" cy="954.60" rx="4.2" ry="1.4"/><ellipse cx="427.17" cy="962.28" rx="4.2" ry="1.4"/><ellipse cx="427.15" cy="977.65" rx="4.2" ry="1.4"/><ellipse cx="427.14" cy="985.34" rx="4.2" ry="1.4"/><ellipse cx="427.14" cy="993.02" rx="4.2" ry="1.4"/><ellipse cx="427.13" cy="1000.71" rx="4.2" ry="1.4"/><ellipse cx="427.11" cy="1016.08" rx="4.2" ry="1.4"/><ellipse cx="427.10" cy="1023.76" rx="4.2" ry="1.4"/><ellipse cx="427.09" cy="1031.44" rx="4.2" ry="1.4"/><ellipse cx="427.08" cy="1039.13" rx="4.2" ry="1.4"/><ellipse cx="427.07" cy="1054.50" rx="4.2" ry="1.4"/><ellipse cx="427.06" cy="1062.18" rx="4.2" ry="1.4"/><ellipse cx="427.05" cy="1069.87" rx="4.2" ry="1.4"/><ellipse cx="427.04" cy="1077.55" rx="4.2" ry="1.4"/><ellipse cx="427.02" cy="1092.92" rx="4.2" ry="1.4"/><ellipse cx="427.01" cy="1100.60" rx="4.2" ry="1.4"/><ellipse cx="427.00" cy="1108.29" rx="4.2" ry="1.4"/><ellipse cx="427.00" cy="1115.97" rx="4.2" ry="1.4"/><ellipse cx="426.98" cy="1131.34" rx="4.2" ry="1.4"/><ellipse cx="426.97" cy="1139.03" rx="4.2" ry="1.4"/><ellipse cx="426.96" cy="1146.71" rx="4.2" ry="1.4"/><ellipse cx="426.95" cy="1154.39" rx="4.2" ry="1.4"/><ellipse cx="426.93" cy="1169.76" rx="4.2" ry="1.4"/><ellipse cx="426.93" cy="1177.45" rx="4.2" ry="1.4"/><ellipse cx="426.92" cy="1185.13" rx="4.2" ry="1.4"/><ellipse cx="426.91" cy="1192.82" rx="4.2" ry="1.4"/><ellipse cx="256.55" cy="1046.13" rx="1.55" ry="2.9"/><ellipse cx="263.66" cy="1046.16" rx="1.55" ry="2.9"/><ellipse cx="270.76" cy="1046.19" rx="1.55" ry="2.9"/><ellipse cx="277.87" cy="1046.21" rx="1.55" ry="2.9"/><ellipse cx="292.08" cy="1046.27" rx="1.55" ry="2.9"/><ellipse cx="299.18" cy="1046.30" rx="1.55" ry="2.9"/><ellipse cx="306.29" cy="1046.33" rx="1.55" ry="2.9"/><ellipse cx="313.39" cy="1046.36" rx="1.55" ry="2.9"/><ellipse cx="327.61" cy="1046.41" rx="1.55" ry="2.9"/><ellipse cx="334.71" cy="1046.44" rx="1.55" ry="2.9"/><ellipse cx="341.81" cy="1046.47" rx="1.55" ry="2.9"/><ellipse cx="348.92" cy="1046.50" rx="1.55" ry="2.9"/><ellipse cx="363.13" cy="1046.56" rx="1.55" ry="2.9"/><ellipse cx="370.24" cy="1046.58" rx="1.55" ry="2.9"/><ellipse cx="377.34" cy="1046.61" rx="1.55" ry="2.9"/><ellipse cx="384.44" cy="1046.64" rx="1.55" ry="2.9"/><ellipse cx="398.65" cy="1046.70" rx="1.55" ry="2.9"/><ellipse cx="405.76" cy="1046.73" rx="1.55" ry="2.9"/><ellipse cx="412.86" cy="1046.76" rx="1.55" ry="2.9"/><ellipse cx="419.97" cy="1046.78" rx="1.55" ry="2.9"/><ellipse cx="434.18" cy="1046.84" rx="1.55" ry="2.9"/><ellipse cx="441.28" cy="1046.87" rx="1.55" ry="2.9"/><ellipse cx="448.39" cy="1046.90" rx="1.55" ry="2.9"/><ellipse cx="455.50" cy="1046.93" rx="1.55" ry="2.9"/><ellipse cx="469.70" cy="1046.98" rx="1.55" ry="2.9"/><ellipse cx="476.81" cy="1047.01" rx="1.55" ry="2.9"/><ellipse cx="483.91" cy="1047.04" rx="1.55" ry="2.9"/><ellipse cx="491.02" cy="1047.07" rx="1.55" ry="2.9"/><ellipse cx="505.23" cy="1047.13" rx="1.55" ry="2.9"/><ellipse cx="512.34" cy="1047.15" rx="1.55" ry="2.9"/><ellipse cx="519.44" cy="1047.18" rx="1.55" ry="2.9"/><ellipse cx="526.55" cy="1047.21" rx="1.55" ry="2.9"/><ellipse cx="540.75" cy="1047.27" rx="1.55" ry="2.9"/><ellipse cx="547.86" cy="1047.30" rx="1.55" ry="2.9"/><ellipse cx="554.96" cy="1047.33" rx="1.55" ry="2.9"/><ellipse cx="562.07" cy="1047.35" rx="1.55" ry="2.9"/><ellipse cx="576.28" cy="1047.41" rx="1.55" ry="2.9"/><ellipse cx="583.38" cy="1047.44" rx="1.55" ry="2.9"/><ellipse cx="590.49" cy="1047.47" rx="1.55" ry="2.9"/><ellipse cx="597.60" cy="1047.50" rx="1.55" ry="2.9"/></g>
<g fill="#bcbcbc"><circle cx="256.71" cy="950.13" r="1.55"/><circle cx="263.81" cy="950.15" r="1.55"/><circle cx="270.92" cy="950.18" r="1.55"/><circle cx="278.02" cy="950.21" r="1.55"/><circle cx="292.23" cy="950.26" r="1.55"/><circle cx="299.33" cy="950.28" r="1.55"/><circle cx="306.43" cy="950.31" r="1.55"/><circle cx="313.53" cy="950.34" r="1.55"/><circle cx="327.74" cy="950.39" r="1.55"/><circle cx="334.84" cy="950.42" r="1.55"/><circle cx="341.95" cy="950.44" r="1.55"/><circle cx="349.05" cy="950.47" r="1.55"/><circle cx="363.26" cy="950.52" r="1.55"/><circle cx="370.36" cy="950.55" r="1.55"/><circle cx="377.46" cy="950.57" r="1.55"/><circle cx="384.57" cy="950.60" r="1.55"/><circle cx="398.77" cy="950.65" r="1.55"/><circle cx="405.87" cy="950.68" r="1.55"/><circle cx="412.98" cy="950.71" r="1.55"/><circle cx="420.08" cy="950.73" r="1.55"/><circle cx="434.29" cy="950.78" r="1.55"/><circle cx="441.39" cy="950.81" r="1.55"/><circle cx="448.49" cy="950.84" r="1.55"/><circle cx="455.60" cy="950.86" r="1.55"/><circle cx="469.80" cy="950.92" r="1.55"/><circle cx="476.91" cy="950.94" r="1.55"/><circle cx="484.01" cy="950.97" r="1.55"/><circle cx="491.11" cy="950.99" r="1.55"/><circle cx="505.32" cy="951.05" r="1.55"/><circle cx="512.42" cy="951.07" r="1.55"/><circle cx="519.53" cy="951.10" r="1.55"/><circle cx="526.63" cy="951.13" r="1.55"/><circle cx="540.83" cy="951.18" r="1.55"/><circle cx="547.94" cy="951.21" r="1.55"/><circle cx="555.04" cy="951.23" r="1.55"/><circle cx="562.14" cy="951.26" r="1.55"/><circle cx="576.35" cy="951.31" r="1.55"/><circle cx="583.45" cy="951.34" r="1.55"/><circle cx="590.56" cy="951.36" r="1.55"/><circle cx="597.66" cy="951.39" r="1.55"/><circle cx="256.40" cy="1142.13" r="1.55"/><circle cx="263.51" cy="1142.16" r="1.55"/><circle cx="270.61" cy="1142.19" r="1.55"/><circle cx="277.72" cy="1142.22" r="1.55"/><circle cx="291.94" cy="1142.28" r="1.55"/><circle cx="299.04" cy="1142.31" r="1.55"/><circle cx="306.15" cy="1142.35" r="1.55"/><circle cx="313.26" cy="1142.38" r="1.55"/><circle cx="327.47" cy="1142.44" r="1.55"/><circle cx="334.58" cy="1142.47" r="1.55"/><circle cx="341.68" cy="1142.50" r="1.55"/><circle cx="348.79" cy="1142.53" r="1.55"/><circle cx="363.00" cy="1142.59" r="1.55"/><circle cx="370.11" cy="1142.62" r="1.55"/><circle cx="377.22" cy="1142.65" r="1.55"/><circle cx="384.32" cy="1142.68" r="1.55"/><circle cx="398.54" cy="1142.74" r="1.55"/><circle cx="405.64" cy="1142.78" r="1.55"/><circle cx="412.75" cy="1142.81" r="1.55"/><circle cx="419.86" cy="1142.84" r="1.55"/><circle cx="434.07" cy="1142.90" r="1.55"/><circle cx="441.18" cy="1142.93" r="1.55"/><circle cx="448.29" cy="1142.96" r="1.55"/><circle cx="455.39" cy="1142.99" r="1.55"/><circle cx="469.61" cy="1143.05" r="1.55"/><circle cx="476.71" cy="1143.08" r="1.55"/><circle cx="483.82" cy="1143.11" r="1.55"/><circle cx="490.93" cy="1143.14" r="1.55"/><circle cx="505.14" cy="1143.20" r="1.55"/><circle cx="512.25" cy="1143.24" r="1.55"/><circle cx="519.36" cy="1143.27" r="1.55"/><circle cx="526.46" cy="1143.30" r="1.55"/><circle cx="540.68" cy="1143.36" r="1.55"/><circle cx="547.78" cy="1143.39" r="1.55"/><circle cx="554.89" cy="1143.42" r="1.55"/><circle cx="562.00" cy="1143.45" r="1.55"/><circle cx="576.21" cy="1143.51" r="1.55"/><circle cx="583.32" cy="1143.54" r="1.55"/><circle cx="590.42" cy="1143.57" r="1.55"/><circle cx="597.53" cy="1143.60" r="1.55"/></g>
<path d="M250.00,1046.50 C268.87,1046.47 288.63,1047.97 306.60,1046.40 C308.46,1046.24 308.94,1043.15 309.50,1041.30 C310.87,1036.75 311.61,1031.93 312.40,1027.20 C313.55,1020.30 314.12,1013.29 315.30,1006.40 C315.78,1003.59 316.47,1000.79 317.40,998.10 C318.57,994.72 320.06,991.43 321.60,988.20 C323.09,985.07 324.55,981.86 326.50,979.00 C328.98,975.36 331.71,971.70 334.90,968.70 C337.28,966.47 340.31,964.89 343.20,963.30 C346.38,961.55 349.74,960.07 353.10,958.70 C355.54,957.71 358.02,956.63 360.60,956.20 C364.69,955.53 368.94,955.76 373.10,955.40 C378.64,954.92 384.15,954.02 389.70,953.70 C396.45,953.32 403.23,953.31 410.00,953.30 C474.67,953.18 539.33,953.30 604.00,953.30" stroke="#0d0d0d" stroke-width="2.4" fill="none" stroke-linejoin="round" stroke-linecap="round"/>
<rect x="525.7" y="922.8" width="78.30" height="23.70" fill="#fff"/>
<text x="536" y="937.8" font-size="14" fill="#000" textLength="67.5" lengthAdjust="spacing" stroke="#000" stroke-width="0.15">+12V/10A</text>
<text x="489" y="1219.3" font-size="14" fill="#000" textLength="129.5" lengthAdjust="spacing" stroke="#000" stroke-width="0.15">5.0V/div, 10ms/div</text>
<path d="M880.59,893.17L880.67,1199.41M916.08,893.23L916.14,1199.42M951.57,893.29L951.61,1199.43M987.06,893.36L987.08,1199.44M1022.55,893.42L1022.55,1199.45M1058.04,893.49L1058.02,1199.46M1093.53,893.56L1093.49,1199.47M1129.02,893.62L1128.96,1199.48M1164.51,893.68L1164.43,1199.49" stroke="#000" stroke-opacity="0.57" stroke-width="2.6" fill="none"/>
<path d="M845.11,931.39L1199.99,931.97M845.12,969.68L1199.97,970.19M845.14,1007.96L1199.96,1008.41M845.15,1046.25L1199.95,1046.62M845.16,1084.54L1199.94,1084.84M845.18,1122.83L1199.93,1123.06M845.19,1161.11L1199.91,1161.28" stroke="#000" stroke-opacity="0.5" stroke-width="2.6" fill="none"/>
<path d="M847.70,893.10L1197.40,893.75Q1200.00,893.75 1200.00,896.35L1199.90,1196.90Q1199.90,1199.50 1197.30,1199.50L847.80,1199.40Q845.20,1199.40 845.20,1196.80L845.10,895.70Q845.10,893.10 847.70,893.10Z" stroke="#000" stroke-opacity="0.55" stroke-width="2.5" fill="none"/>
<g fill="#3a3a3a"><ellipse cx="1022.55" cy="901.08" rx="4.2" ry="1.4"/><ellipse cx="1022.55" cy="908.73" rx="4.2" ry="1.4"/><ellipse cx="1022.55" cy="916.38" rx="4.2" ry="1.4"/><ellipse cx="1022.55" cy="924.03" rx="4.2" ry="1.4"/><ellipse cx="1022.55" cy="939.33" rx="4.2" ry="1.4"/><ellipse cx="1022.55" cy="946.98" rx="4.2" ry="1.4"/><ellipse cx="1022.55" cy="954.63" rx="4.2" ry="1.4"/><ellipse cx="1022.55" cy="962.28" rx="4.2" ry="1.4"/><ellipse cx="1022.55" cy="977.58" rx="4.2" ry="1.4"/><ellipse cx="1022.55" cy="985.23" rx="4.2" ry="1.4"/><ellipse cx="1022.55" cy="992.88" rx="4.2" ry="1.4"/><ellipse cx="1022.55" cy="1000.53" rx="4.2" ry="1.4"/><ellipse cx="1022.55" cy="1015.84" rx="4.2" ry="1.4"/><ellipse cx="1022.55" cy="1023.49" rx="4.2" ry="1.4"/><ellipse cx="1022.55" cy="1031.14" rx="4.2" ry="1.4"/><ellipse cx="1022.55" cy="1038.79" rx="4.2" ry="1.4"/><ellipse cx="1022.55" cy="1054.09" rx="4.2" ry="1.4"/><ellipse cx="1022.55" cy="1061.74" rx="4.2" ry="1.4"/><ellipse cx="1022.55" cy="1069.39" rx="4.2" ry="1.4"/><ellipse cx="1022.55" cy="1077.04" rx="4.2" ry="1.4"/><ellipse cx="1022.55" cy="1092.34" rx="4.2" ry="1.4"/><ellipse cx="1022.55" cy="1099.99" rx="4.2" ry="1.4"/><ellipse cx="1022.55" cy="1107.64" rx="4.2" ry="1.4"/><ellipse cx="1022.55" cy="1115.29" rx="4.2" ry="1.4"/><ellipse cx="1022.55" cy="1130.59" rx="4.2" ry="1.4"/><ellipse cx="1022.55" cy="1138.24" rx="4.2" ry="1.4"/><ellipse cx="1022.55" cy="1145.90" rx="4.2" ry="1.4"/><ellipse cx="1022.55" cy="1153.55" rx="4.2" ry="1.4"/><ellipse cx="1022.55" cy="1168.85" rx="4.2" ry="1.4"/><ellipse cx="1022.55" cy="1176.50" rx="4.2" ry="1.4"/><ellipse cx="1022.55" cy="1184.15" rx="4.2" ry="1.4"/><ellipse cx="1022.55" cy="1191.80" rx="4.2" ry="1.4"/><ellipse cx="852.25" cy="1046.26" rx="1.55" ry="2.9"/><ellipse cx="859.34" cy="1046.26" rx="1.55" ry="2.9"/><ellipse cx="866.44" cy="1046.27" rx="1.55" ry="2.9"/><ellipse cx="873.53" cy="1046.28" rx="1.55" ry="2.9"/><ellipse cx="887.73" cy="1046.30" rx="1.55" ry="2.9"/><ellipse cx="894.82" cy="1046.30" rx="1.55" ry="2.9"/><ellipse cx="901.92" cy="1046.31" rx="1.55" ry="2.9"/><ellipse cx="909.01" cy="1046.32" rx="1.55" ry="2.9"/><ellipse cx="923.21" cy="1046.33" rx="1.55" ry="2.9"/><ellipse cx="930.30" cy="1046.34" rx="1.55" ry="2.9"/><ellipse cx="937.40" cy="1046.35" rx="1.55" ry="2.9"/><ellipse cx="944.49" cy="1046.36" rx="1.55" ry="2.9"/><ellipse cx="958.69" cy="1046.37" rx="1.55" ry="2.9"/><ellipse cx="965.78" cy="1046.38" rx="1.55" ry="2.9"/><ellipse cx="972.88" cy="1046.39" rx="1.55" ry="2.9"/><ellipse cx="979.97" cy="1046.39" rx="1.55" ry="2.9"/><ellipse cx="994.17" cy="1046.41" rx="1.55" ry="2.9"/><ellipse cx="1001.26" cy="1046.41" rx="1.55" ry="2.9"/><ellipse cx="1008.36" cy="1046.42" rx="1.55" ry="2.9"/><ellipse cx="1015.45" cy="1046.43" rx="1.55" ry="2.9"/><ellipse cx="1029.65" cy="1046.44" rx="1.55" ry="2.9"/><ellipse cx="1036.74" cy="1046.45" rx="1.55" ry="2.9"/><ellipse cx="1043.84" cy="1046.46" rx="1.55" ry="2.9"/><ellipse cx="1050.93" cy="1046.47" rx="1.55" ry="2.9"/><ellipse cx="1065.13" cy="1046.48" rx="1.55" ry="2.9"/><ellipse cx="1072.22" cy="1046.49" rx="1.55" ry="2.9"/><ellipse cx="1079.32" cy="1046.50" rx="1.55" ry="2.9"/><ellipse cx="1086.41" cy="1046.51" rx="1.55" ry="2.9"/><ellipse cx="1100.61" cy="1046.52" rx="1.55" ry="2.9"/><ellipse cx="1107.70" cy="1046.53" rx="1.55" ry="2.9"/><ellipse cx="1114.80" cy="1046.54" rx="1.55" ry="2.9"/><ellipse cx="1121.89" cy="1046.54" rx="1.55" ry="2.9"/><ellipse cx="1136.09" cy="1046.56" rx="1.55" ry="2.9"/><ellipse cx="1143.18" cy="1046.57" rx="1.55" ry="2.9"/><ellipse cx="1150.28" cy="1046.57" rx="1.55" ry="2.9"/><ellipse cx="1157.37" cy="1046.58" rx="1.55" ry="2.9"/><ellipse cx="1171.57" cy="1046.60" rx="1.55" ry="2.9"/><ellipse cx="1178.66" cy="1046.60" rx="1.55" ry="2.9"/><ellipse cx="1185.76" cy="1046.61" rx="1.55" ry="2.9"/><ellipse cx="1192.85" cy="1046.62" rx="1.55" ry="2.9"/></g>
<g fill="#bcbcbc"><circle cx="852.22" cy="950.54" r="1.55"/><circle cx="859.31" cy="950.55" r="1.55"/><circle cx="866.41" cy="950.56" r="1.55"/><circle cx="873.51" cy="950.58" r="1.55"/><circle cx="887.70" cy="950.60" r="1.55"/><circle cx="894.80" cy="950.61" r="1.55"/><circle cx="901.90" cy="950.62" r="1.55"/><circle cx="908.99" cy="950.63" r="1.55"/><circle cx="923.19" cy="950.65" r="1.55"/><circle cx="930.29" cy="950.66" r="1.55"/><circle cx="937.38" cy="950.67" r="1.55"/><circle cx="944.48" cy="950.68" r="1.55"/><circle cx="958.67" cy="950.71" r="1.55"/><circle cx="965.77" cy="950.72" r="1.55"/><circle cx="972.87" cy="950.73" r="1.55"/><circle cx="979.97" cy="950.74" r="1.55"/><circle cx="994.16" cy="950.76" r="1.55"/><circle cx="1001.26" cy="950.77" r="1.55"/><circle cx="1008.36" cy="950.78" r="1.55"/><circle cx="1015.45" cy="950.79" r="1.55"/><circle cx="1029.65" cy="950.82" r="1.55"/><circle cx="1036.74" cy="950.83" r="1.55"/><circle cx="1043.84" cy="950.84" r="1.55"/><circle cx="1050.94" cy="950.85" r="1.55"/><circle cx="1065.13" cy="950.87" r="1.55"/><circle cx="1072.23" cy="950.88" r="1.55"/><circle cx="1079.33" cy="950.89" r="1.55"/><circle cx="1086.43" cy="950.90" r="1.55"/><circle cx="1100.62" cy="950.92" r="1.55"/><circle cx="1107.72" cy="950.94" r="1.55"/><circle cx="1114.81" cy="950.95" r="1.55"/><circle cx="1121.91" cy="950.96" r="1.55"/><circle cx="1136.11" cy="950.98" r="1.55"/><circle cx="1143.20" cy="950.99" r="1.55"/><circle cx="1150.30" cy="951.00" r="1.55"/><circle cx="1157.40" cy="951.01" r="1.55"/><circle cx="1171.59" cy="951.03" r="1.55"/><circle cx="1178.69" cy="951.05" r="1.55"/><circle cx="1185.79" cy="951.06" r="1.55"/><circle cx="1192.88" cy="951.07" r="1.55"/><circle cx="852.28" cy="1141.97" r="1.55"/><circle cx="859.37" cy="1141.98" r="1.55"/><circle cx="866.47" cy="1141.98" r="1.55"/><circle cx="873.56" cy="1141.99" r="1.55"/><circle cx="887.75" cy="1141.99" r="1.55"/><circle cx="894.84" cy="1142.00" r="1.55"/><circle cx="901.94" cy="1142.00" r="1.55"/><circle cx="909.03" cy="1142.01" r="1.55"/><circle cx="923.22" cy="1142.01" r="1.55"/><circle cx="930.32" cy="1142.02" r="1.55"/><circle cx="937.41" cy="1142.02" r="1.55"/><circle cx="944.51" cy="1142.03" r="1.55"/><circle cx="958.70" cy="1142.03" r="1.55"/><circle cx="965.79" cy="1142.04" r="1.55"/><circle cx="972.89" cy="1142.04" r="1.55"/><circle cx="979.98" cy="1142.05" r="1.55"/><circle cx="994.17" cy="1142.05" r="1.55"/><circle cx="1001.27" cy="1142.06" r="1.55"/><circle cx="1008.36" cy="1142.06" r="1.55"/><circle cx="1015.46" cy="1142.07" r="1.55"/><circle cx="1029.64" cy="1142.07" r="1.55"/><circle cx="1036.74" cy="1142.08" r="1.55"/><circle cx="1043.83" cy="1142.08" r="1.55"/><circle cx="1050.93" cy="1142.09" r="1.55"/><circle cx="1065.12" cy="1142.09" r="1.55"/><circle cx="1072.21" cy="1142.10" r="1.55"/><circle cx="1079.31" cy="1142.10" r="1.55"/><circle cx="1086.40" cy="1142.11" r="1.55"/><circle cx="1100.59" cy="1142.12" r="1.55"/><circle cx="1107.69" cy="1142.12" r="1.55"/><circle cx="1114.78" cy="1142.12" r="1.55"/><circle cx="1121.88" cy="1142.13" r="1.55"/><circle cx="1136.07" cy="1142.14" r="1.55"/><circle cx="1143.16" cy="1142.14" r="1.55"/><circle cx="1150.26" cy="1142.14" r="1.55"/><circle cx="1157.35" cy="1142.15" r="1.55"/><circle cx="1171.54" cy="1142.16" r="1.55"/><circle cx="1178.63" cy="1142.16" r="1.55"/><circle cx="1185.73" cy="1142.16" r="1.55"/><circle cx="1192.82" cy="1142.17" r="1.55"/></g>
<rect x="854.8" y="925.7" width="90.70" height="21.50" fill="#fff"/>
<path d="M845.50,953.80 L1086.90,953.90 L1092.50,956.30 L1095.00,965.00 L1115.00,1046.30 L1199.50,1046.80" stroke="#0d0d0d" stroke-width="2.3" fill="none" stroke-linejoin="round" stroke-linecap="round"/>
<text x="873.4" y="941.5" font-size="14" fill="#000" textLength="67.5" lengthAdjust="spacing" stroke="#000" stroke-width="0.15">+12V/10A</text>
<text x="1081" y="1219.3" font-size="14" fill="#000" textLength="129.5" lengthAdjust="spacing" stroke="#000" stroke-width="0.15">5.0V/div, 10ms/div</text>
<path d="M284.87,1340.38L285.44,1649.72M320.34,1340.36L320.88,1649.74M355.81,1340.34L356.32,1649.76M391.28,1340.32L391.76,1649.78M426.75,1340.30L427.20,1649.80M462.22,1340.28L462.64,1649.82M497.69,1340.26L498.08,1649.84M533.16,1340.24L533.52,1649.86M568.63,1340.22L568.96,1649.88" stroke="#000" stroke-opacity="0.57" stroke-width="2.6" fill="none"/>
<path d="M249.47,1379.06L604.14,1378.91M249.55,1417.73L604.18,1417.62M249.62,1456.39L604.21,1456.34M249.70,1495.05L604.25,1495.05M249.78,1533.71L604.29,1533.76M249.85,1572.38L604.32,1572.48M249.93,1611.04L604.36,1611.19" stroke="#000" stroke-opacity="0.5" stroke-width="2.6" fill="none"/>
<path d="M252.00,1340.40L601.50,1340.20Q604.10,1340.20 604.10,1342.80L604.40,1647.30Q604.40,1649.90 601.80,1649.90L252.60,1649.70Q250.00,1649.70 249.99,1647.10L249.41,1343.00Q249.40,1340.40 252.00,1340.40Z" stroke="#000" stroke-opacity="0.55" stroke-width="2.5" fill="none"/>
<g fill="#3a3a3a"><ellipse cx="426.76" cy="1348.04" rx="4.2" ry="1.4"/><ellipse cx="426.77" cy="1355.78" rx="4.2" ry="1.4"/><ellipse cx="426.78" cy="1363.51" rx="4.2" ry="1.4"/><ellipse cx="426.79" cy="1371.25" rx="4.2" ry="1.4"/><ellipse cx="426.82" cy="1386.73" rx="4.2" ry="1.4"/><ellipse cx="426.83" cy="1394.46" rx="4.2" ry="1.4"/><ellipse cx="426.84" cy="1402.20" rx="4.2" ry="1.4"/><ellipse cx="426.85" cy="1409.94" rx="4.2" ry="1.4"/><ellipse cx="426.87" cy="1425.41" rx="4.2" ry="1.4"/><ellipse cx="426.88" cy="1433.15" rx="4.2" ry="1.4"/><ellipse cx="426.90" cy="1440.89" rx="4.2" ry="1.4"/><ellipse cx="426.91" cy="1448.63" rx="4.2" ry="1.4"/><ellipse cx="426.93" cy="1464.10" rx="4.2" ry="1.4"/><ellipse cx="426.94" cy="1471.84" rx="4.2" ry="1.4"/><ellipse cx="426.95" cy="1479.58" rx="4.2" ry="1.4"/><ellipse cx="426.96" cy="1487.31" rx="4.2" ry="1.4"/><ellipse cx="426.99" cy="1502.79" rx="4.2" ry="1.4"/><ellipse cx="427.00" cy="1510.53" rx="4.2" ry="1.4"/><ellipse cx="427.01" cy="1518.26" rx="4.2" ry="1.4"/><ellipse cx="427.02" cy="1526.00" rx="4.2" ry="1.4"/><ellipse cx="427.04" cy="1541.48" rx="4.2" ry="1.4"/><ellipse cx="427.05" cy="1549.21" rx="4.2" ry="1.4"/><ellipse cx="427.06" cy="1556.95" rx="4.2" ry="1.4"/><ellipse cx="427.08" cy="1564.69" rx="4.2" ry="1.4"/><ellipse cx="427.10" cy="1580.16" rx="4.2" ry="1.4"/><ellipse cx="427.11" cy="1587.90" rx="4.2" ry="1.4"/><ellipse cx="427.12" cy="1595.64" rx="4.2" ry="1.4"/><ellipse cx="427.13" cy="1603.38" rx="4.2" ry="1.4"/><ellipse cx="427.16" cy="1618.85" rx="4.2" ry="1.4"/><ellipse cx="427.17" cy="1626.59" rx="4.2" ry="1.4"/><ellipse cx="427.18" cy="1634.33" rx="4.2" ry="1.4"/><ellipse cx="427.19" cy="1642.06" rx="4.2" ry="1.4"/><ellipse cx="256.79" cy="1495.05" rx="1.55" ry="2.9"/><ellipse cx="263.88" cy="1495.05" rx="1.55" ry="2.9"/><ellipse cx="270.97" cy="1495.05" rx="1.55" ry="2.9"/><ellipse cx="278.06" cy="1495.05" rx="1.55" ry="2.9"/><ellipse cx="292.25" cy="1495.05" rx="1.55" ry="2.9"/><ellipse cx="299.34" cy="1495.05" rx="1.55" ry="2.9"/><ellipse cx="306.43" cy="1495.05" rx="1.55" ry="2.9"/><ellipse cx="313.52" cy="1495.05" rx="1.55" ry="2.9"/><ellipse cx="327.70" cy="1495.05" rx="1.55" ry="2.9"/><ellipse cx="334.79" cy="1495.05" rx="1.55" ry="2.9"/><ellipse cx="341.88" cy="1495.05" rx="1.55" ry="2.9"/><ellipse cx="348.97" cy="1495.05" rx="1.55" ry="2.9"/><ellipse cx="363.16" cy="1495.05" rx="1.55" ry="2.9"/><ellipse cx="370.25" cy="1495.05" rx="1.55" ry="2.9"/><ellipse cx="377.34" cy="1495.05" rx="1.55" ry="2.9"/><ellipse cx="384.43" cy="1495.05" rx="1.55" ry="2.9"/><ellipse cx="398.61" cy="1495.05" rx="1.55" ry="2.9"/><ellipse cx="405.70" cy="1495.05" rx="1.55" ry="2.9"/><ellipse cx="412.79" cy="1495.05" rx="1.55" ry="2.9"/><ellipse cx="419.88" cy="1495.05" rx="1.55" ry="2.9"/><ellipse cx="434.07" cy="1495.05" rx="1.55" ry="2.9"/><ellipse cx="441.16" cy="1495.05" rx="1.55" ry="2.9"/><ellipse cx="448.25" cy="1495.05" rx="1.55" ry="2.9"/><ellipse cx="455.34" cy="1495.05" rx="1.55" ry="2.9"/><ellipse cx="469.52" cy="1495.05" rx="1.55" ry="2.9"/><ellipse cx="476.61" cy="1495.05" rx="1.55" ry="2.9"/><ellipse cx="483.70" cy="1495.05" rx="1.55" ry="2.9"/><ellipse cx="490.79" cy="1495.05" rx="1.55" ry="2.9"/><ellipse cx="504.98" cy="1495.05" rx="1.55" ry="2.9"/><ellipse cx="512.07" cy="1495.05" rx="1.55" ry="2.9"/><ellipse cx="519.16" cy="1495.05" rx="1.55" ry="2.9"/><ellipse cx="526.25" cy="1495.05" rx="1.55" ry="2.9"/><ellipse cx="540.43" cy="1495.05" rx="1.55" ry="2.9"/><ellipse cx="547.52" cy="1495.05" rx="1.55" ry="2.9"/><ellipse cx="554.61" cy="1495.05" rx="1.55" ry="2.9"/><ellipse cx="561.70" cy="1495.05" rx="1.55" ry="2.9"/><ellipse cx="575.89" cy="1495.05" rx="1.55" ry="2.9"/><ellipse cx="582.98" cy="1495.05" rx="1.55" ry="2.9"/><ellipse cx="590.07" cy="1495.05" rx="1.55" ry="2.9"/><ellipse cx="597.16" cy="1495.05" rx="1.55" ry="2.9"/></g>
<g fill="#bcbcbc"><circle cx="256.61" cy="1398.39" r="1.55"/><circle cx="263.70" cy="1398.39" r="1.55"/><circle cx="270.79" cy="1398.39" r="1.55"/><circle cx="277.88" cy="1398.38" r="1.55"/><circle cx="292.07" cy="1398.38" r="1.55"/><circle cx="299.16" cy="1398.38" r="1.55"/><circle cx="306.26" cy="1398.37" r="1.55"/><circle cx="313.35" cy="1398.37" r="1.55"/><circle cx="327.53" cy="1398.37" r="1.55"/><circle cx="334.63" cy="1398.36" r="1.55"/><circle cx="341.72" cy="1398.36" r="1.55"/><circle cx="348.81" cy="1398.36" r="1.55"/><circle cx="363.00" cy="1398.35" r="1.55"/><circle cx="370.09" cy="1398.35" r="1.55"/><circle cx="377.18" cy="1398.35" r="1.55"/><circle cx="384.28" cy="1398.35" r="1.55"/><circle cx="398.46" cy="1398.34" r="1.55"/><circle cx="405.56" cy="1398.34" r="1.55"/><circle cx="412.65" cy="1398.34" r="1.55"/><circle cx="419.74" cy="1398.33" r="1.55"/><circle cx="433.93" cy="1398.33" r="1.55"/><circle cx="441.02" cy="1398.33" r="1.55"/><circle cx="448.11" cy="1398.32" r="1.55"/><circle cx="455.21" cy="1398.32" r="1.55"/><circle cx="469.39" cy="1398.32" r="1.55"/><circle cx="476.48" cy="1398.31" r="1.55"/><circle cx="483.58" cy="1398.31" r="1.55"/><circle cx="490.67" cy="1398.31" r="1.55"/><circle cx="504.86" cy="1398.30" r="1.55"/><circle cx="511.95" cy="1398.30" r="1.55"/><circle cx="519.04" cy="1398.30" r="1.55"/><circle cx="526.13" cy="1398.30" r="1.55"/><circle cx="540.32" cy="1398.29" r="1.55"/><circle cx="547.41" cy="1398.29" r="1.55"/><circle cx="554.51" cy="1398.29" r="1.55"/><circle cx="561.60" cy="1398.28" r="1.55"/><circle cx="575.78" cy="1398.28" r="1.55"/><circle cx="582.88" cy="1398.28" r="1.55"/><circle cx="589.97" cy="1398.27" r="1.55"/><circle cx="597.06" cy="1398.27" r="1.55"/><circle cx="256.98" cy="1591.71" r="1.55"/><circle cx="264.07" cy="1591.71" r="1.55"/><circle cx="271.15" cy="1591.71" r="1.55"/><circle cx="278.24" cy="1591.72" r="1.55"/><circle cx="292.42" cy="1591.72" r="1.55"/><circle cx="299.51" cy="1591.72" r="1.55"/><circle cx="306.60" cy="1591.73" r="1.55"/><circle cx="313.69" cy="1591.73" r="1.55"/><circle cx="327.87" cy="1591.73" r="1.55"/><circle cx="334.96" cy="1591.74" r="1.55"/><circle cx="342.05" cy="1591.74" r="1.55"/><circle cx="349.14" cy="1591.74" r="1.55"/><circle cx="363.31" cy="1591.75" r="1.55"/><circle cx="370.40" cy="1591.75" r="1.55"/><circle cx="377.49" cy="1591.75" r="1.55"/><circle cx="384.58" cy="1591.75" r="1.55"/><circle cx="398.76" cy="1591.76" r="1.55"/><circle cx="405.85" cy="1591.76" r="1.55"/><circle cx="412.94" cy="1591.76" r="1.55"/><circle cx="420.03" cy="1591.77" r="1.55"/><circle cx="434.20" cy="1591.77" r="1.55"/><circle cx="441.29" cy="1591.77" r="1.55"/><circle cx="448.38" cy="1591.78" r="1.55"/><circle cx="455.47" cy="1591.78" r="1.55"/><circle cx="469.65" cy="1591.78" r="1.55"/><circle cx="476.74" cy="1591.79" r="1.55"/><circle cx="483.83" cy="1591.79" r="1.55"/><circle cx="490.92" cy="1591.79" r="1.55"/><circle cx="505.10" cy="1591.80" r="1.55"/><circle cx="512.19" cy="1591.80" r="1.55"/><circle cx="519.27" cy="1591.80" r="1.55"/><circle cx="526.36" cy="1591.80" r="1.55"/><circle cx="540.54" cy="1591.81" r="1.55"/><circle cx="547.63" cy="1591.81" r="1.55"/><circle cx="554.72" cy="1591.81" r="1.55"/><circle cx="561.81" cy="1591.82" r="1.55"/><circle cx="575.99" cy="1591.82" r="1.55"/><circle cx="583.08" cy="1591.82" r="1.55"/><circle cx="590.17" cy="1591.83" r="1.55"/><circle cx="597.25" cy="1591.83" r="1.55"/></g>
<path d="M250.00,1401.70 L490.30,1401.70 L494.50,1402.50 L496.60,1404.50 L498.40,1411.10 L518.40,1493.50 L520.50,1495.10 L535.00,1495.20 L604.00,1495.50" stroke="#0d0d0d" stroke-width="2.3" fill="none" stroke-linejoin="round" stroke-linecap="round"/>
<path d="M250.00,1508.20 C251.20,1509.23 252.91,1511.75 253.60,1511.30 C254.54,1510.69 254.52,1507.11 254.90,1505.00 C255.45,1501.94 255.83,1498.85 256.40,1495.80 C256.80,1493.69 257.16,1491.53 257.80,1489.50 C258.06,1488.70 258.53,1487.87 259.10,1487.30 C259.43,1486.97 260.03,1486.80 260.50,1486.80 C260.97,1486.80 261.49,1487.04 261.90,1487.30 C262.52,1487.70 263.12,1488.22 263.60,1488.80 C264.76,1490.22 265.65,1491.87 266.80,1493.30 C268.45,1495.34 270.18,1497.31 272.00,1499.20 C273.75,1501.01 275.73,1502.61 277.50,1504.40 C278.36,1505.27 279.18,1506.21 279.90,1507.20 C280.54,1508.08 280.93,1509.16 281.60,1510.00 C282.01,1510.52 282.92,1511.70 283.15,1511.30 C283.87,1510.03 284.07,1507.11 284.45,1505.00 C285.00,1501.94 285.38,1498.85 285.95,1495.80 C286.35,1493.69 286.71,1491.53 287.35,1489.50 C287.61,1488.70 288.08,1487.87 288.65,1487.30 C288.98,1486.97 289.58,1486.80 290.05,1486.80 C290.52,1486.80 291.04,1487.04 291.45,1487.30 C292.07,1487.70 292.67,1488.22 293.15,1488.80 C294.31,1490.22 295.20,1491.87 296.35,1493.30 C298.00,1495.34 299.73,1497.31 301.55,1499.20 C303.30,1501.01 305.28,1502.61 307.05,1504.40 C307.91,1505.27 308.73,1506.21 309.45,1507.20 C310.09,1508.08 310.48,1509.16 311.15,1510.00 C311.56,1510.52 312.47,1511.70 312.70,1511.30 C313.42,1510.03 313.62,1507.11 314.00,1505.00 C314.55,1501.94 314.93,1498.85 315.50,1495.80 C315.90,1493.69 316.26,1491.53 316.90,1489.50 C317.16,1488.70 317.63,1487.87 318.20,1487.30 C318.53,1486.97 319.13,1486.80 319.60,1486.80 C320.07,1486.80 320.59,1487.04 321.00,1487.30 C321.62,1487.70 322.22,1488.22 322.70,1488.80 C323.86,1490.22 324.75,1491.87 325.90,1493.30 C327.55,1495.34 329.28,1497.31 331.10,1499.20 C332.85,1501.01 334.83,1502.61 336.60,1504.40 C337.46,1505.27 338.28,1506.21 339.00,1507.20 C339.64,1508.08 340.03,1509.16 340.70,1510.00 C341.11,1510.52 342.02,1511.70 342.25,1511.30 C342.97,1510.03 343.17,1507.11 343.55,1505.00 C344.10,1501.94 344.48,1498.85 345.05,1495.80 C345.45,1493.69 345.81,1491.53 346.45,1489.50 C346.71,1488.70 347.18,1487.87 347.75,1487.30 C348.08,1486.97 348.68,1486.80 349.15,1486.80 C349.62,1486.80 350.14,1487.04 350.55,1487.30 C351.17,1487.70 351.77,1488.22 352.25,1488.80 C353.41,1490.22 354.30,1491.87 355.45,1493.30 C357.10,1495.34 358.83,1497.31 360.65,1499.20 C362.40,1501.01 364.38,1502.61 366.15,1504.40 C367.01,1505.27 367.83,1506.21 368.55,1507.20 C369.19,1508.08 369.58,1509.16 370.25,1510.00 C370.66,1510.52 371.57,1511.70 371.80,1511.30 C372.52,1510.03 372.72,1507.11 373.10,1505.00 C373.65,1501.94 374.03,1498.85 374.60,1495.80 C375.00,1493.69 375.36,1491.53 376.00,1489.50 C376.26,1488.70 376.73,1487.87 377.30,1487.30 C377.63,1486.97 378.23,1486.80 378.70,1486.80 C379.17,1486.80 379.69,1487.04 380.10,1487.30 C380.72,1487.70 381.32,1488.22 381.80,1488.80 C382.96,1490.22 383.85,1491.87 385.00,1493.30 C386.65,1495.34 388.38,1497.31 390.20,1499.20 C391.95,1501.01 393.93,1502.61 395.70,1504.40 C396.56,1505.27 397.38,1506.21 398.10,1507.20 C398.74,1508.08 399.13,1509.16 399.80,1510.00 C400.21,1510.52 401.12,1511.70 401.35,1511.30 C402.07,1510.03 402.27,1507.11 402.65,1505.00 C403.20,1501.94 403.58,1498.85 404.15,1495.80 C404.55,1493.69 404.91,1491.53 405.55,1489.50 C405.81,1488.70 406.28,1487.87 406.85,1487.30 C407.18,1486.97 407.78,1486.80 408.25,1486.80 C408.72,1486.80 409.24,1487.04 409.65,1487.30 C410.27,1487.70 410.87,1488.22 411.35,1488.80 C412.51,1490.22 413.40,1491.87 414.55,1493.30 C416.20,1495.34 417.93,1497.31 419.75,1499.20 C421.50,1501.01 423.48,1502.61 425.25,1504.40 C426.11,1505.27 426.93,1506.21 427.65,1507.20 C428.29,1508.08 428.65,1509.19 429.35,1510.00 C429.80,1510.52 430.84,1511.62 431.10,1511.20 C431.86,1509.95 431.91,1507.05 432.40,1505.00 C433.18,1501.72 434.06,1498.46 434.90,1495.20 C435.39,1493.30 435.72,1491.32 436.40,1489.50 C436.72,1488.65 437.25,1487.43 437.90,1487.20 C438.45,1487.00 439.39,1487.74 440.00,1488.20 C440.92,1488.90 441.78,1489.77 442.50,1490.70 C444.38,1493.14 445.75,1496.02 447.80,1498.30 C450.08,1500.82 453.15,1502.63 455.50,1505.10 C457.72,1507.43 459.62,1510.08 461.50,1512.70 C463.65,1515.68 465.53,1518.86 467.60,1521.90 C469.86,1525.23 472.33,1528.42 474.50,1531.80 C476.40,1534.75 478.05,1537.86 479.80,1540.90 C481.85,1544.46 484.01,1547.96 485.90,1551.60 C487.58,1554.83 489.20,1558.11 490.50,1561.50 C491.73,1564.71 492.51,1568.10 493.50,1571.40 C494.78,1575.70 495.24,1580.45 497.30,1584.30 C499.04,1587.55 502.42,1589.85 504.90,1592.70 C507.49,1595.68 509.97,1598.77 512.50,1601.80 C514.00,1603.60 515.28,1605.68 517.00,1607.20 C517.95,1608.04 519.23,1608.74 520.50,1608.90 C525.23,1609.48 530.16,1609.37 535.00,1609.40 C558.00,1609.54 581.00,1609.40 604.00,1609.40" stroke="#0d0d0d" stroke-width="2.2" fill="none" stroke-linejoin="round" stroke-linecap="round"/>
<rect x="277" y="1530" width="93.40" height="19.30" fill="#fff"/>
<text x="282" y="1544.1" font-size="14" fill="#000" textLength="84.5" lengthAdjust="spacing" stroke="#000" stroke-width="0.15">Primary  DC</text>
<text x="619" y="1500" font-size="14" fill="#000" textLength="57" lengthAdjust="spacing" stroke="#000" stroke-width="0.15">5.0V/div</text>
<text x="615.7" y="1600.9" font-size="14" fill="#000" textLength="52.5" lengthAdjust="spacing" stroke="#000" stroke-width="0.15">50V/div</text>
<text x="536" y="1666.9" font-size="14" fill="#000" textLength="60.5" lengthAdjust="spacing" stroke="#000" stroke-width="0.15">10ms/div</text>
<path d="M879.52,1341.18L879.87,1648.83M915.34,1341.26L915.64,1648.90M951.16,1341.34L951.41,1648.97M986.98,1341.42L987.18,1649.05M1022.80,1341.50L1022.95,1649.12M1058.62,1341.58L1058.72,1649.20M1094.44,1341.66L1094.49,1649.27M1130.26,1341.74L1130.26,1649.35M1166.08,1341.82L1166.03,1649.42" stroke="#000" stroke-opacity="0.57" stroke-width="2.6" fill="none"/>
<path d="M843.75,1379.56L1201.89,1380.35M843.80,1418.01L1201.88,1418.80M843.85,1456.47L1201.86,1457.25M843.90,1494.92L1201.85,1495.70M843.95,1533.38L1201.84,1534.15M844.00,1571.84L1201.82,1572.60M844.05,1610.29L1201.81,1611.05" stroke="#000" stroke-opacity="0.5" stroke-width="2.6" fill="none"/>
<path d="M846.30,1341.11L1199.30,1341.89Q1201.90,1341.90 1201.90,1344.50L1201.80,1646.90Q1201.80,1649.50 1199.20,1649.49L846.70,1648.76Q844.10,1648.75 844.10,1646.15L843.70,1343.70Q843.70,1341.10 846.30,1341.11Z" stroke="#000" stroke-opacity="0.55" stroke-width="2.5" fill="none"/>
<g fill="#3a3a3a"><ellipse cx="1022.80" cy="1349.19" rx="4.2" ry="1.4"/><ellipse cx="1022.81" cy="1356.88" rx="4.2" ry="1.4"/><ellipse cx="1022.81" cy="1364.57" rx="4.2" ry="1.4"/><ellipse cx="1022.82" cy="1372.26" rx="4.2" ry="1.4"/><ellipse cx="1022.82" cy="1387.64" rx="4.2" ry="1.4"/><ellipse cx="1022.83" cy="1395.33" rx="4.2" ry="1.4"/><ellipse cx="1022.83" cy="1403.03" rx="4.2" ry="1.4"/><ellipse cx="1022.83" cy="1410.72" rx="4.2" ry="1.4"/><ellipse cx="1022.84" cy="1426.10" rx="4.2" ry="1.4"/><ellipse cx="1022.85" cy="1433.79" rx="4.2" ry="1.4"/><ellipse cx="1022.85" cy="1441.48" rx="4.2" ry="1.4"/><ellipse cx="1022.85" cy="1449.17" rx="4.2" ry="1.4"/><ellipse cx="1022.86" cy="1464.55" rx="4.2" ry="1.4"/><ellipse cx="1022.86" cy="1472.24" rx="4.2" ry="1.4"/><ellipse cx="1022.87" cy="1479.93" rx="4.2" ry="1.4"/><ellipse cx="1022.87" cy="1487.62" rx="4.2" ry="1.4"/><ellipse cx="1022.88" cy="1503.00" rx="4.2" ry="1.4"/><ellipse cx="1022.88" cy="1510.69" rx="4.2" ry="1.4"/><ellipse cx="1022.89" cy="1518.38" rx="4.2" ry="1.4"/><ellipse cx="1022.89" cy="1526.07" rx="4.2" ry="1.4"/><ellipse cx="1022.90" cy="1541.46" rx="4.2" ry="1.4"/><ellipse cx="1022.90" cy="1549.15" rx="4.2" ry="1.4"/><ellipse cx="1022.90" cy="1556.84" rx="4.2" ry="1.4"/><ellipse cx="1022.91" cy="1564.53" rx="4.2" ry="1.4"/><ellipse cx="1022.92" cy="1579.91" rx="4.2" ry="1.4"/><ellipse cx="1022.92" cy="1587.60" rx="4.2" ry="1.4"/><ellipse cx="1022.92" cy="1595.29" rx="4.2" ry="1.4"/><ellipse cx="1022.93" cy="1602.98" rx="4.2" ry="1.4"/><ellipse cx="1022.94" cy="1618.36" rx="4.2" ry="1.4"/><ellipse cx="1022.94" cy="1626.05" rx="4.2" ry="1.4"/><ellipse cx="1022.94" cy="1633.74" rx="4.2" ry="1.4"/><ellipse cx="1022.95" cy="1641.43" rx="4.2" ry="1.4"/><ellipse cx="851.06" cy="1494.94" rx="1.55" ry="2.9"/><ellipse cx="858.22" cy="1494.96" rx="1.55" ry="2.9"/><ellipse cx="865.38" cy="1494.97" rx="1.55" ry="2.9"/><ellipse cx="872.54" cy="1494.99" rx="1.55" ry="2.9"/><ellipse cx="886.85" cy="1495.02" rx="1.55" ry="2.9"/><ellipse cx="894.01" cy="1495.03" rx="1.55" ry="2.9"/><ellipse cx="901.17" cy="1495.05" rx="1.55" ry="2.9"/><ellipse cx="908.33" cy="1495.06" rx="1.55" ry="2.9"/><ellipse cx="922.65" cy="1495.10" rx="1.55" ry="2.9"/><ellipse cx="929.81" cy="1495.11" rx="1.55" ry="2.9"/><ellipse cx="936.97" cy="1495.13" rx="1.55" ry="2.9"/><ellipse cx="944.13" cy="1495.14" rx="1.55" ry="2.9"/><ellipse cx="958.44" cy="1495.17" rx="1.55" ry="2.9"/><ellipse cx="965.60" cy="1495.19" rx="1.55" ry="2.9"/><ellipse cx="972.76" cy="1495.20" rx="1.55" ry="2.9"/><ellipse cx="979.92" cy="1495.22" rx="1.55" ry="2.9"/><ellipse cx="994.24" cy="1495.25" rx="1.55" ry="2.9"/><ellipse cx="1001.40" cy="1495.27" rx="1.55" ry="2.9"/><ellipse cx="1008.56" cy="1495.28" rx="1.55" ry="2.9"/><ellipse cx="1015.72" cy="1495.30" rx="1.55" ry="2.9"/><ellipse cx="1030.03" cy="1495.33" rx="1.55" ry="2.9"/><ellipse cx="1037.19" cy="1495.34" rx="1.55" ry="2.9"/><ellipse cx="1044.35" cy="1495.36" rx="1.55" ry="2.9"/><ellipse cx="1051.51" cy="1495.37" rx="1.55" ry="2.9"/><ellipse cx="1065.83" cy="1495.41" rx="1.55" ry="2.9"/><ellipse cx="1072.99" cy="1495.42" rx="1.55" ry="2.9"/><ellipse cx="1080.15" cy="1495.44" rx="1.55" ry="2.9"/><ellipse cx="1087.31" cy="1495.45" rx="1.55" ry="2.9"/><ellipse cx="1101.62" cy="1495.48" rx="1.55" ry="2.9"/><ellipse cx="1108.78" cy="1495.50" rx="1.55" ry="2.9"/><ellipse cx="1115.94" cy="1495.51" rx="1.55" ry="2.9"/><ellipse cx="1123.10" cy="1495.53" rx="1.55" ry="2.9"/><ellipse cx="1137.42" cy="1495.56" rx="1.55" ry="2.9"/><ellipse cx="1144.58" cy="1495.58" rx="1.55" ry="2.9"/><ellipse cx="1151.74" cy="1495.59" rx="1.55" ry="2.9"/><ellipse cx="1158.90" cy="1495.61" rx="1.55" ry="2.9"/><ellipse cx="1173.21" cy="1495.64" rx="1.55" ry="2.9"/><ellipse cx="1180.37" cy="1495.65" rx="1.55" ry="2.9"/><ellipse cx="1187.53" cy="1495.67" rx="1.55" ry="2.9"/><ellipse cx="1194.69" cy="1495.68" rx="1.55" ry="2.9"/></g>
<g fill="#bcbcbc"><circle cx="850.94" cy="1398.80" r="1.55"/><circle cx="858.10" cy="1398.82" r="1.55"/><circle cx="865.26" cy="1398.83" r="1.55"/><circle cx="872.42" cy="1398.85" r="1.55"/><circle cx="886.75" cy="1398.88" r="1.55"/><circle cx="893.91" cy="1398.90" r="1.55"/><circle cx="901.07" cy="1398.91" r="1.55"/><circle cx="908.23" cy="1398.93" r="1.55"/><circle cx="922.56" cy="1398.96" r="1.55"/><circle cx="929.72" cy="1398.97" r="1.55"/><circle cx="936.88" cy="1398.99" r="1.55"/><circle cx="944.04" cy="1399.01" r="1.55"/><circle cx="958.37" cy="1399.04" r="1.55"/><circle cx="965.53" cy="1399.05" r="1.55"/><circle cx="972.69" cy="1399.07" r="1.55"/><circle cx="979.86" cy="1399.08" r="1.55"/><circle cx="994.18" cy="1399.12" r="1.55"/><circle cx="1001.34" cy="1399.13" r="1.55"/><circle cx="1008.50" cy="1399.15" r="1.55"/><circle cx="1015.67" cy="1399.16" r="1.55"/><circle cx="1029.99" cy="1399.20" r="1.55"/><circle cx="1037.15" cy="1399.21" r="1.55"/><circle cx="1044.31" cy="1399.23" r="1.55"/><circle cx="1051.48" cy="1399.24" r="1.55"/><circle cx="1065.80" cy="1399.27" r="1.55"/><circle cx="1072.96" cy="1399.29" r="1.55"/><circle cx="1080.13" cy="1399.31" r="1.55"/><circle cx="1087.29" cy="1399.32" r="1.55"/><circle cx="1101.61" cy="1399.35" r="1.55"/><circle cx="1108.77" cy="1399.37" r="1.55"/><circle cx="1115.94" cy="1399.39" r="1.55"/><circle cx="1123.10" cy="1399.40" r="1.55"/><circle cx="1137.42" cy="1399.43" r="1.55"/><circle cx="1144.58" cy="1399.45" r="1.55"/><circle cx="1151.75" cy="1399.46" r="1.55"/><circle cx="1158.91" cy="1399.48" r="1.55"/><circle cx="1173.23" cy="1399.51" r="1.55"/><circle cx="1180.39" cy="1399.53" r="1.55"/><circle cx="1187.56" cy="1399.54" r="1.55"/><circle cx="1194.72" cy="1399.56" r="1.55"/><circle cx="851.18" cy="1591.08" r="1.55"/><circle cx="858.34" cy="1591.10" r="1.55"/><circle cx="865.49" cy="1591.11" r="1.55"/><circle cx="872.65" cy="1591.13" r="1.55"/><circle cx="886.96" cy="1591.16" r="1.55"/><circle cx="894.12" cy="1591.17" r="1.55"/><circle cx="901.27" cy="1591.19" r="1.55"/><circle cx="908.43" cy="1591.20" r="1.55"/><circle cx="922.74" cy="1591.23" r="1.55"/><circle cx="929.90" cy="1591.25" r="1.55"/><circle cx="937.05" cy="1591.26" r="1.55"/><circle cx="944.21" cy="1591.28" r="1.55"/><circle cx="958.52" cy="1591.31" r="1.55"/><circle cx="965.67" cy="1591.32" r="1.55"/><circle cx="972.83" cy="1591.34" r="1.55"/><circle cx="979.99" cy="1591.35" r="1.55"/><circle cx="994.30" cy="1591.38" r="1.55"/><circle cx="1001.45" cy="1591.40" r="1.55"/><circle cx="1008.61" cy="1591.41" r="1.55"/><circle cx="1015.77" cy="1591.43" r="1.55"/><circle cx="1030.08" cy="1591.46" r="1.55"/><circle cx="1037.23" cy="1591.48" r="1.55"/><circle cx="1044.39" cy="1591.49" r="1.55"/><circle cx="1051.55" cy="1591.51" r="1.55"/><circle cx="1065.86" cy="1591.54" r="1.55"/><circle cx="1073.01" cy="1591.55" r="1.55"/><circle cx="1080.17" cy="1591.57" r="1.55"/><circle cx="1087.32" cy="1591.58" r="1.55"/><circle cx="1101.64" cy="1591.61" r="1.55"/><circle cx="1108.79" cy="1591.63" r="1.55"/><circle cx="1115.95" cy="1591.64" r="1.55"/><circle cx="1123.10" cy="1591.66" r="1.55"/><circle cx="1137.42" cy="1591.69" r="1.55"/><circle cx="1144.57" cy="1591.70" r="1.55"/><circle cx="1151.73" cy="1591.72" r="1.55"/><circle cx="1158.88" cy="1591.73" r="1.55"/><circle cx="1173.20" cy="1591.76" r="1.55"/><circle cx="1180.35" cy="1591.78" r="1.55"/><circle cx="1187.51" cy="1591.79" r="1.55"/><circle cx="1194.66" cy="1591.81" r="1.55"/></g>
<rect x="858" y="1348.7" width="337.00" height="20.60" fill="#fff"/>
<circle cx="1009.7" cy="1402.5" r="12.3" stroke="#a0a0a0" stroke-width="1.1" fill="none"/>
<path d="M844.00,1439.30 L1004.80,1439.30 L1011.90,1406.60 L1022.50,1440.20 L1026.10,1456.20 L1050.00,1532.30 L1201.50,1533.00" stroke="#0d0d0d" stroke-width="2.3" fill="none" stroke-linejoin="round" stroke-linecap="round"/>
<text x="876.7" y="1363.8" font-size="14" fill="#000" textLength="308" lengthAdjust="spacing" stroke="#000" stroke-width="0.15">Trip point  around  16.4V (60%  Rated load)</text>
<text x="1085" y="1666.5" font-size="14" fill="#000" textLength="130" lengthAdjust="spacing" stroke="#000" stroke-width="0.15">5.0V/div, 10ms/div</text>
<text x="144" y="1720.1" font-size="12.8" fill="#000" textLength="27.5" lengthAdjust="spacing">-Mo-</text>
<rect x="143" y="1750.9" width="1165.2" height="2" fill="#3866b3"/>
<text x="141.5" y="1781" font-size="22" fill="#000" textLength="112" lengthAdjust="spacing">MAR. 2016</text>
<text x="266.6" y="1781.2" font-size="20" fill="#000" textLength="997.5" lengthAdjust="spacing">** This data sheet is only for models selection.  For business, engineering specification by model must be used.</text>
<text x="1274.5" y="1783.6" font-size="22" fill="#000" textLength="32" lengthAdjust="spacing">4-3</text>
</svg>
</body></html>
